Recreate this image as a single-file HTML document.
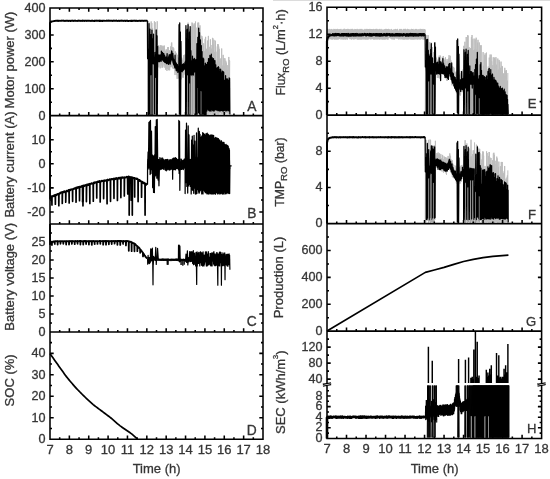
<!DOCTYPE html>
<html lang="en"><head><meta charset="utf-8"><title>Figure</title>
<style>html,body{margin:0;padding:0;background:#fff}svg{display:block}</style></head>
<body><svg width="550" height="479" viewBox="0 0 550 479">
<defs><filter id="soft" x="0" y="0" width="550" height="479" filterUnits="userSpaceOnUse"><feGaussianBlur stdDeviation="0.45"/></filter></defs>
<rect width="550" height="479" fill="#fff"/>
<rect x="273" y="0" width="277" height="1" fill="#dcdcdc"/>
<g filter="url(#soft)">
<g font-family="'Liberation Sans', sans-serif" font-size="13" fill="#363636" stroke="#363636" stroke-width="0.3">
<path d="M147.49,114.6 147.87,24.36 148.3,113.2 148.56,21.04 148.84,114.6 149.2,22.66 149.62,114.6 149.88,36.71 150.23,114.6 150.52,47.31 150.92,113.83 151.16,21.4 151.42,112.13 151.82,23.03 152.07,111.02 152.35,28.17 152.65,114.6 152.98,37.99 153.32,111.58 153.62,46.76 153.96,114.6 154.4,21.27 154.74,114.24 155.17,22.17 155.44,111.99 155.8,33.33 156.08,114.6 156.46,30.1 156.9,114.6 157.22,21.3 157.51,113.72 157.63,67.68 157.84,56.87 158.09,65.55 158.32,54.92 158.49,67.24 158.7,45.29 158.93,66.69 159.1,46.91 159.31,62.42 159.56,56.54 159.79,56.78 159.95,56.13 160.16,68.33 160.35,45.29 160.5,57.27 160.65,46.33 160.8,63.08 160.99,45.54 161.2,65.45 161.39,45.68 161.61,57.11 161.79,54.95 162.01,67.69 162.26,45.71 162.5,67.18 162.66,47.62 162.87,67.34 163.1,48.78 163.25,61.19 163.43,46.8 163.63,62.73 163.85,45.81 164.11,65.36 164.29,45.61 164.5,64.58 164.74,49.51 164.9,67.74 165.12,58.02 165.37,57.2 165.57,50.79 165.71,69.72 165.89,52.48 166.12,68.37 166.32,49.35 166.57,60.04 166.78,55.75 166.95,70.88 167.1,50.6 167.25,69.1 167.45,57.41 167.6,58.13 167.78,47.13 168.02,60.15 168.25,47.06 168.47,69.82 168.64,53.77 168.88,70.32 169.06,52.04 169.26,63.76 169.43,50.29 169.66,70.27 169.85,51.5 170.05,67.25 170.24,56.29 170.46,59.39 170.65,46.43 170.8,66.44 171.03,47.79 171.18,66.71 171.42,43.36 171.58,60.64 171.73,42.46 171.91,54.41 172.14,47.05 172.33,67.79 172.52,47.66 172.69,67.22 172.93,46.98 173.08,68.71 173.32,59.15 173.48,68.76 173.73,48.22 173.95,60.44 174.17,59.79 174.34,66.05 174.5,63.53 174.7,62.53 174.87,62.48 175.04,75.05 175.29,51.33 175.52,68.97 175.74,52.47 175.94,72.29 176.16,59.37 176.3,66.19 176.45,53.42 176.7,74.85 176.89,66.37 177.12,78.85 177.33,54.77 177.56,75.62 177.75,68.76 177.97,71.93 178.16,58.47 178.35,78.63 178.51,57.7 178.74,77.6 178.95,58.57 179.15,73.3 179.39,68.66 179.61,73.66 179.84,63.97 180.01,72.93 180.17,65.3 180.4,77.83 180.61,62.75 180.81,75.94 180.97,59.45 181.2,79.38 181.39,66.89 181.63,70.19 181.8,57.74 181.97,73.92 182.19,61.88 182.37,76.13 182.57,59.75 182.71,77.25 182.89,61.02 183.13,77.89 183.34,64.91 183.49,73.36 183.64,55.2 183.86,74.86 184.08,58.93 184.27,67.4 184.49,54.78 184.72,70.7 184.96,60.97 185.17,73.82 185.38,54.25 185.56,68.7 185.58,114.6 185.9,29.9 186.14,112.56 186.37,29.85 186.62,112.1 186.98,35.71 187.22,112.66 187.55,42.39 187.81,113.84 188.07,22.65 188.36,114.3 188.71,36.85 189.09,113.89 189.31,47.23 189.52,111.79 189.82,29.23 190.08,114.6 190.34,48.83 190.6,111.29 190.83,43.3 191.14,114.6 191.37,26.77 191.64,113.74 192.02,22.5 192.32,114.6 192.68,23.26 192.9,114.12 193.11,24.61 193.45,113.74 193.73,48.9 194.07,113.95 194.32,23.36 194.57,112.56 194.92,25.95 195.19,114.6 195.47,21.5 195.72,112.97 195.73,114.16 195.91,27.51 196.18,112.69 196.35,48.55 196.64,113.68 196.85,51.64 197.06,114.25 197.24,40.21 197.55,113.64 197.82,22.62 198.04,112.68 198.26,57.02 198.49,113.17 198.66,22.57 198.85,113.52 199.06,49.24 199.23,112.26 199.46,28.34 199.7,112.11 199.98,25.35 200.27,112.85 200.55,55.18 200.78,113.45 200.98,35.54 201.25,114.12 201.43,41.04 201.73,111.88 201.99,36.24 202.21,112.38 202.41,38.22 202.62,114.25 202.81,58.84 203.06,114 203.35,46.03 203.53,113.7 203.74,43.27 203.97,113.69 204.18,51.19 204.41,112.6 204.64,55.51 204.91,112.56 205.17,38.84 205.43,113.95 205.61,36.86 205.86,112.67 206.04,60.47 206.21,113.93 206.43,48.81 206.65,113.35 206.9,54.89 207.17,114.21 207.46,40.62 207.69,113.38 207.88,42.91 208.16,114.24 208.38,35.9 208.68,113.33 208.89,62.51 209.19,113.62 209.4,52.35 209.67,112.94 209.84,46.84 210.1,113.54 210.38,39.32 210.58,114 210.75,51.38 210.93,114.05 211.19,60.92 211.39,112.42 211.58,48.67 211.82,112.6 212.04,45.01 212.27,114.1 212.47,37.87 212.74,114.03 212.98,38.38 213.2,112.94 213.49,44.66 213.72,113.98 214.01,39.88 214.27,113.92 214.56,52.27 214.74,114.18 214.96,66.77 215.24,114 215.41,40.71 215.71,113.85 215.9,51.64 216.07,113.01 216.29,62.54 216.49,112.32 216.74,67.06 217.04,114.2 217.32,46.44 217.56,112.39 217.77,44.08 217.98,114.04 218.21,44.39 218.41,114.19 218.71,46.5 218.95,113.06 219.16,48.81 219.36,112.49 219.65,61.89 219.88,113.83 220.18,58.71 220.47,112.79 220.65,66.78 220.93,113.06 221.23,57.97 221.42,113.68 221.68,48.51 221.98,113.94 222.25,65.52 222.46,112.77 222.68,67.38 222.9,113.79 223.17,54.86 223.41,113.5 223.59,74.66 223.75,113.51 223.93,57.97 224.2,113.51 224.37,65.76 224.66,112.94 224.94,58.32 225.15,114.05 225.36,68.88 225.58,113.97 225.79,60.75 226.04,113.49 226.33,62.62 226.59,112.55 226.82,70.12 227.09,112.68 227.27,70.01 227.56,113.43 227.78,65.16 228.06,113.15 228.36,71.87 228.58,113.98 228.81,56.94 229.01,112.91 229.21,60.07 229.42,113.36 229.71,60.77" fill="none" stroke="#bdbdbd" stroke-width="1" stroke-linejoin="round"/>
<path d="M50,115.6 50,23.06 50.39,22.26 52.32,21.32 55.81,20.78 55.81,20.72 56.2,20.61 56.59,20.66 56.98,20.9 57.37,20.86 57.76,20.62 58.15,20.99 58.54,20.64 58.93,20.65 59.32,20.79 59.71,20.86 60.1,20.87 60.49,20.88 60.88,20.8 61.27,20.78 61.66,20.75 62.05,20.56 62.43,20.65 62.82,20.72 63.21,20.57 63.6,20.9 63.99,20.92 64.38,20.73 64.77,20.97 65.16,20.98 65.55,20.77 65.94,20.79 66.33,20.6 66.72,20.72 67.11,20.77 67.5,20.78 67.89,20.89 68.28,20.99 68.67,20.91 69.06,20.69 69.45,20.91 69.84,20.83 70.23,20.99 70.62,20.64 71.01,20.93 71.4,20.88 71.79,20.61 72.18,20.77 72.57,20.63 72.96,20.72 73.35,20.67 73.74,20.95 74.13,20.76 74.52,20.77 74.91,20.62 75.3,20.84 75.69,20.74 76.08,20.97 76.47,20.83 76.86,20.85 77.25,20.93 77.63,20.64 78.02,20.83 78.41,20.57 78.8,20.74 79.19,20.73 79.58,20.72 79.97,20.7 80.36,20.93 80.75,20.8 81.14,20.89 81.53,20.82 81.92,20.95 82.31,20.58 82.7,20.9 83.09,20.7 83.48,20.86 83.87,20.62 84.26,20.71 84.65,20.94 85.04,20.63 85.43,20.59 85.82,20.6 86.21,20.75 86.6,20.93 86.99,20.91 87.38,20.59 87.77,20.75 88.16,20.91 88.55,20.61 88.94,20.72 89.33,20.75 89.72,20.83 90.11,20.82 90.5,20.89 90.89,20.98 91.28,20.62 91.67,20.79 92.06,20.76 92.45,20.85 92.83,20.67 93.22,20.98 93.61,20.83 94,20.98 94.39,20.94 94.78,20.58 95.17,20.71 95.56,20.81 95.95,20.77 96.34,20.62 96.73,20.84 97.12,20.74 97.51,20.7 97.9,20.84 98.29,20.77 98.68,20.66 99.07,20.6 99.46,20.93 99.85,20.59 100.24,20.99 100.63,20.67 101.02,20.64 101.41,20.93 101.8,20.81 102.19,20.64 102.58,20.99 102.97,20.72 103.36,20.65 103.75,20.77 104.14,20.68 104.53,20.9 104.92,20.91 105.31,20.84 105.7,20.92 106.09,20.84 106.48,20.58 106.87,20.75 107.26,20.85 107.65,20.88 108.03,20.58 108.42,20.8 108.81,20.57 109.2,20.77 109.59,20.77 109.98,20.61 110.37,20.67 110.76,20.74 111.15,20.81 111.54,20.61 111.93,20.82 112.32,20.6 112.71,20.96 113.1,20.81 113.49,20.77 113.88,20.58 114.27,20.88 114.66,20.65 115.05,20.7 115.44,20.68 115.83,20.72 116.22,20.57 116.61,20.85 117,20.82 117.39,20.91 117.78,20.97 118.17,20.9 118.56,20.6 118.95,20.63 119.34,20.94 119.73,20.73 120.12,20.79 120.51,20.74 120.9,20.71 121.29,20.86 121.68,20.58 122.07,20.79 122.46,20.72 122.85,20.72 123.23,20.91 123.62,20.97 124.01,20.82 124.4,20.66 124.79,20.64 125.18,20.68 125.57,20.94 125.96,20.6 126.35,20.65 126.74,20.61 127.13,20.77 127.52,20.6 127.91,20.97 128.3,20.98 128.69,20.98 129.08,20.88 129.47,20.89 129.86,20.91 130.25,20.75 130.64,20.98 131.03,20.74 131.42,20.92 131.81,20.7 132.2,20.98 132.59,20.86 132.98,20.59 133.37,20.76 133.76,20.64 134.15,20.71 134.54,20.73 134.93,20.91 135.32,20.75 135.71,20.98 136.1,20.65 136.49,20.58 136.88,20.63 137.27,20.97 137.66,20.85 138.05,20.86 138.43,20.94 138.82,20.72 139.21,20.65 139.6,20.86 139.99,20.62 140.38,20.65 140.77,20.94 141.16,20.66 141.55,20.61 141.94,20.91 142.33,20.75 142.72,20.72 143.11,20.73 143.5,20.95 143.89,20.71 144.28,20.72 144.67,20.64 145.06,20.65 145.45,20.85 145.84,20.68 146.23,20.62 146.62,20.61 147.01,20.92 147.4,20.98" fill="none" stroke="#000" stroke-width="1.9" stroke-linejoin="round"/>
<path d="M147.36,20.78 147.4,20.78 147.59,58.71 147.69,53.02 147.95,58.65 148.21,54.14 148.46,49.22 148.56,114.6 148.99,23.69 149.39,114.1 149.91,29.1 150.36,114.6 150.69,63.41 151.03,34.66 151.24,63.18 151.47,114.6 151.95,30.16 152.41,114.6 152.63,61.13 152.95,38.66 153.29,57.62 153.56,34.2 153.79,114.6 154.18,52.33 154.49,113.67 154.91,56.93 155.44,57.85 155.73,52.08 155.82,113.79 156.19,29.88 156.63,113.98 157.01,35.83 157.29,114.54 157.65,46.35 157.76,56.44 157.95,55.86 158.15,59.3 158.34,60.91 158.54,56.89 158.73,55.39 158.93,60.84 159.12,57.2 159.32,56.47 159.51,55.86 159.71,60.97 159.9,61.05 160.1,55.14 160.29,60.64 160.49,60.13 160.68,57.44 160.88,58.14 161.07,56.05 161.27,59.54 161.46,54.75 161.66,59.12 161.85,55.44 162.05,59.84 162.24,57.1 162.44,59.82 162.63,57.88 162.83,57.77 163.02,55.01 163.22,56.95 163.41,59.77 163.61,53.97 163.8,54.91 164,54.99 164.19,59.57 164.39,58.87 164.58,60.21 164.78,61.12 164.97,61.97 165.17,59.19 165.36,61.83 165.56,61.55 165.75,57.2 165.95,59.69 166.14,61.69 166.34,58.61 166.53,61.29 166.73,59.66 166.92,61.3 167.12,59.86 167.31,59.19 167.51,59.85 167.7,60.82 167.9,58.33 168.09,57.86 168.29,62.4 168.48,62.74 168.68,62.95 168.87,57.1 169.07,57.08 169.26,61.41 169.46,56.38 169.65,61.04 169.85,58.86 170.04,58.66 170.24,55.7 170.43,61.09 170.63,59.06 170.82,56.58 171.02,59.15 171.21,57.18 171.41,54.84 171.6,51.28 171.8,52.88 171.99,53.27 172.19,54.55 172.38,55.73 172.58,55.65 172.77,57.52 172.97,57.74 173.16,61.1 173.36,62.53 173.55,59.3 173.75,63.67 173.94,59.37 174.14,62.02 174.33,64.29 174.53,60.69 174.72,66.06 174.92,64.07 175.11,67.12 175.31,61.81 175.5,64.65 175.7,63.5 175.89,67.2 176.09,64.17 176.28,65.13 176.48,65.84 176.67,64.18 176.87,67.85 177.06,68.29 177.26,66.83 177.45,66.23 177.65,69.79 177.84,67.73 178.04,70.76 178.23,68.59 178.43,67.23 178.62,71.82 178.82,67.59 179.04,24.65 179.38,113.99 179.72,22.79 180.06,114.6 180.4,32.08 180.62,114.6 180.96,41.36 181.3,68.2 181.52,71.33 181.73,65.1 181.93,68.11 182.13,68.35 182.34,66.2 182.54,67.33 182.74,65.84 182.94,69.87 183.15,66.63 183.35,66.52 183.55,63.96 183.76,69.58 183.96,66.76 184.16,65.47 184.36,65.84 184.57,68.77 184.77,65.28 184.97,67.53 185.18,67.55 185.38,63 185.58,67.25 185.58,114.6 185.93,25.58 186.29,70.09 186.64,64.56 186.99,114.6 187.34,29.29 187.7,114.6 188.05,24.65 188.4,69.36 188.75,58.06 189.1,114.6 189.46,32.08 189.81,114.6 190.16,26.51 190.51,68.63 190.87,50.64 191.22,74.95 191.87,63.95 192.44,76.03 193.08,61.36 193.68,74.86 194.22,63.57 194.81,76.16 195.34,63.79 195.73,114.6 196.11,59.77 196.53,114.11 196.95,43.7 197.31,114.6 197.84,37.27 198.21,112.42 198.71,28.01 199.21,113.62 199.52,32.59 199.92,114.6 200.41,39.89 200.88,114.6 201.3,45.66 201.76,114.6 201.81,114.6 202.03,51.62 202.34,114.32 202.59,59.24 202.9,113.34 203.16,58.04 203.37,114.02 203.7,58.89 203.96,114.6 204.32,65.8 204.66,114.6 204.91,65.65 205.14,114.51 205.36,63.24 205.62,114.6 205.85,66.43 206.06,114.6 206.31,64.3 206.32,110.39 206.6,72.18 206.88,111 207.14,70.12 207.33,109.02 207.51,62.38 207.79,108.58 208.04,66.03 208.28,109.81 208.49,58.73 208.75,110.3 209.03,58.81 209.21,110.81 209.41,65.62 209.61,109.47 209.9,55.27 210.17,110.88 210.44,55.85 210.64,110.63 210.9,62.65 211.08,111.01 211.32,54.19 211.52,109.67 211.73,57.67 212.01,109.17 212.26,57.86 212.53,110.36 212.69,77.71 212.88,110.63 213.11,60.23 213.31,110.97 213.51,58.56 213.68,110.76 213.94,60.18 214.19,110.97 214.37,62.92 214.64,109.86 214.92,60.72 215.16,109.38 215.33,68.81 215.56,108.69 215.77,64.84 215.95,110 216.25,68.4 216.46,109.49 216.7,68.2 216.89,110.23 217.08,71.94 217.26,109.59 217.48,67.7 217.72,110.08 217.89,74.05 218.07,110.86 218.35,66.61 218.56,110.31 218.85,67.66 219.08,109.62 219.31,69.32 219.6,110.94 219.88,74.01 220.04,110.89 220.27,71.55 220.46,110.71 220.63,69.23 220.85,110.08 221.06,70.86 221.32,110.49 221.59,76.7 221.88,109.74 222.08,72.67 222.33,110.91 222.59,71.21 222.89,110.93 223.18,71.64 223.38,111.02 223.68,72.06 223.92,110.2 224.18,80.13 224.37,110.52 224.64,80.44 224.84,109.29 225.13,80.26 225.35,109.8 225.58,75.64 225.8,111 226.07,78.4 226.35,110.82 226.55,79.68 226.76,110.12 226.95,79.49 227.22,110.13 227.39,78.91 227.58,110.19 227.83,80.44 228,110.87 228.2,83.5 228.4,109.35 228.7,79.83 228.95,110.7 229.15,77.84 229.39,110.88 229.6,78.33 229.89,114.6" fill="none" stroke="#000" stroke-width="1.25" stroke-linejoin="round"/>
<rect x="150.63" y="75.25" width="0.7" height="39.45" fill="#fff"/>
<rect x="152.71" y="64.49" width="1" height="50.21" fill="#fff"/>
<rect x="155.23" y="77.94" width="0.6" height="36.76" fill="#fff"/>
<rect x="187.08" y="75.25" width="0.8" height="39.45" fill="#fff"/>
<rect x="189.46" y="83.32" width="0.7" height="31.38" fill="#fff"/>
<rect x="192.12" y="75.25" width="0.8" height="39.45" fill="#fff"/>
<rect x="194.25" y="72.56" width="0.8" height="42.14" fill="#fff"/>
<rect x="197.25" y="88.7" width="0.6" height="26" fill="#fff"/>
<rect x="200.79" y="91.39" width="0.5" height="23.31" fill="#fff"/>
<path d="M157.86,57.44 157.97,59.53 158.09,56.26 158.21,55.24 158.32,58.75 158.44,55.08 158.56,61.7 158.67,61.37 158.79,56.35 158.91,60.2 159.03,57.86 159.14,58.6 159.26,61.54 159.38,56.44 159.49,56.55 159.61,61.55 159.73,60.54 159.85,55.93 159.96,54.92 160.08,55.2 160.2,58.21 160.31,59.27 160.43,58.54 160.55,60.72 160.67,57.96 160.78,60.11 160.9,60.62 161.02,58.71 161.13,61.29 161.25,57.81 161.37,51.11 161.49,56.14 161.6,53.35 161.72,54.02 161.84,56.06 161.95,53.77 162.07,57.5 162.19,54.45 162.31,58.7 162.42,52.28 162.54,52.71 162.66,55.83 162.77,56.53 162.89,54.1 163.01,58.01 163.13,53.75 163.24,60.73 163.36,59.04 163.48,59.7 163.59,59.18 163.71,53.56 163.83,61.45 163.95,59.3 164.06,57.14 164.18,56.21 164.3,55.77 164.41,59.2 164.53,60.73 164.65,55.57 164.76,61.86 164.88,62.49 165,61.24 165.12,59.21 165.23,58.89 165.35,57.48 165.47,58.9 165.58,59.29 165.7,57.89 165.82,58.48 165.94,60.96 166.05,63.04 166.17,62.17 166.29,57.32 166.4,58.6 166.52,57.28 166.64,63.63 166.76,56.48 166.87,60.87 166.99,56.34 167.11,53.61 167.22,59.6 167.34,57.36 167.46,59.02 167.58,58.64 167.69,63.02 167.81,59.3 167.93,61.42 168.04,63.82 168.16,63.37 168.28,60.5 168.4,62.36 168.51,58.18 168.63,63.61 168.75,64.44 168.86,56.03 168.98,61.62 169.1,54.92 169.22,62.17 169.33,62.03 169.45,60.25 169.57,56.84 169.68,62.99 169.8,56.13 169.92,54.69 170.04,58.16 170.15,59.67 170.27,64.02 170.39,60.85 170.5,59.51 170.62,54.92 170.74,61.78 170.86,57.86 170.97,55.16 171.09,60.08 171.21,59.13 171.32,53.02 171.44,53.01 171.56,55.51 171.67,51 171.79,56.96 171.91,55.65 172.03,58.77 172.14,54.82 172.26,60.01 172.38,59.74 172.49,55.31 172.61,58.05 172.73,57.2 172.85,53.4 172.96,58.35 173.08,62.12 173.2,58.25 173.31,63.48 173.43,62.53 173.55,61.37 173.67,64.51 173.78,64.92 173.9,60.68 174.02,60.26 174.13,63.72 174.25,63.9 174.37,65.7 174.49,63.26 174.6,62.96 174.72,60.19 174.84,67.88 174.95,60.79 175.07,55.24 175.19,65.9 175.31,62.91 175.42,62.28 175.54,63.93 175.66,67.17 175.77,64.56 175.89,62.62 176.01,69.28 176.13,66.34 176.24,70.38 176.36,63.67 176.48,64.43 176.59,70.77 176.71,65.09 176.83,65.74 176.95,70.68 177.06,67.53 177.18,66.35 177.3,69.51 177.41,68.3 177.53,64.53 177.65,67.58 177.77,68.79 177.88,72.48 178,72.05 178.12,65.95 178.23,66.89 178.35,66.14 178.47,68.32 178.58,68.37 178.7,68.78 178.82,67.09" fill="none" stroke="#000" stroke-width="1.25" stroke-linejoin="round"/>
<path d="M181.52,69.63 181.64,68.15 181.76,68.29 181.88,66.59 181.99,70.25 182.11,71.77 182.23,71.15 182.35,70.31 182.46,64.53 182.58,65.63 182.7,65.26 182.82,67.75 182.93,70.53 183.05,67.4 183.17,63.98 183.28,66.86 183.4,65.75 183.52,67.83 183.64,69.63 183.75,65.54 183.87,66.65 183.99,67.73 184.11,68.38 184.22,64.62 184.34,67.71 184.46,65.46 184.58,68.03 184.69,63.81 184.81,66.9 184.93,65.95 185.05,62.09 185.16,63.76 185.28,63.53 185.4,66.78 185.51,62.49 185.63,66.24 185.75,61.13 185.87,67.41 185.98,63.81 186.1,62.32 186.22,69.79 186.34,63.05 186.45,68.11 186.57,60.82 186.69,62.35 186.81,67.83 186.92,66.94 187.04,64.11 187.16,62.49 187.28,67.6 187.39,60.74 187.51,65.85 187.63,60.36 187.74,62.35 187.86,64.55 187.98,65.53 188.1,67.72 188.21,67.75 188.33,63.16 188.45,61.91 188.57,60.74 188.68,65.25 188.8,60.39 188.92,69.58 189.04,60.29 189.15,60.42 189.27,66.78 189.39,60.82 189.51,62.09 189.62,62.05 189.74,60.85 189.86,63.36 189.97,63.56 190.09,64.69 190.21,60.46 190.33,54.43 190.44,66.29 190.56,61.11 190.68,65.23 190.8,65.96 190.91,65.8 191.03,62.6 191.15,65.02 191.27,65.31 191.38,66.51 191.5,64.62 191.62,60.84 191.74,67.16 191.85,63.29 191.97,62.28 192.09,66.92 192.2,64.87 192.32,59.73 192.44,56.05 192.56,60.2 192.67,65.92 192.79,60.93 192.91,63.56 193.03,65.91 193.14,63.31 193.26,59.6 193.38,59.98 193.5,64.06 193.61,66.81 193.73,59.78 193.85,59.06 193.97,63.05 194.08,65.45 194.2,62.78 194.32,58.28 194.43,63.29 194.55,64.38 194.67,65.26 194.79,64.85 194.9,66.92 195.02,65.2 195.14,59.34 195.26,67.27 195.37,61.24 195.49,60.72 195.61,63.94 195.73,62.35" fill="none" stroke="#000" stroke-width="1.25" stroke-linejoin="round"/>
<path d="M327.39,38.79 327.48,29.29 327.58,36.85 327.66,31.64 327.76,37.15 327.84,31.57 327.95,35.82 328.06,31.95 328.17,38.8 328.28,30.87 328.37,38.41 328.46,29.91 328.55,37.27 328.68,32.27 328.81,38.13 328.93,29.32 329.05,38.09 329.16,30.67 329.26,38.56 329.38,31.53 329.51,38.11 329.6,32.27 329.69,39.02 329.83,29.24 329.91,38.46 330.03,30.21 330.15,37.89 330.24,30.81 330.34,36.39 330.43,30.97 330.54,38.57 330.66,32.66 330.79,36.2 330.86,32.29 330.97,37.78 331.09,29.23 331.17,39.3 331.25,30.22 331.33,38.51 331.46,30.93 331.57,38.88 331.66,29.52 331.76,38.63 331.86,29.53 331.95,38.79 332.04,29.84 332.18,36.55 332.27,31.51 332.4,38.97 332.49,30.16 332.6,39.26 332.69,29.69 332.77,38.5 332.86,32.59 332.98,38.48 333.08,31.76 333.21,36.47 333.33,29.69 333.42,36.22 333.55,31.84 333.67,36.93 333.76,29.23 333.9,39.07 334.02,29.23 334.13,37.58 334.26,29.54 334.37,39.3 334.46,29.46 334.55,35.97 334.65,31.55 334.77,39.3 334.9,29.47 335.01,36.98 335.1,30.96 335.23,39.24 335.31,30.18 335.41,39.04 335.52,32.18 335.61,36.48 335.71,30.76 335.81,36.62 335.9,29.22 335.97,38.72 336.08,30.33 336.21,38.58 336.3,29.51 336.4,39.3 336.53,30.05 336.62,38.73 336.75,29.8 336.88,39.13 336.98,32.44 337.07,35.89 337.18,29.3 337.28,36.36 337.39,29.3 337.49,38.11 337.61,29.44 337.71,36.56 337.79,29.88 337.91,39.13 338.04,30.71 338.15,39.05 338.28,29.53 338.36,37.55 338.46,31.69 338.59,36.98 338.73,30.74 338.81,38.91 338.94,31.06 339.06,36.42 339.16,29.47 339.24,36.25 339.36,30.96 339.49,38.53 339.62,32.24 339.74,36.61 339.88,30.45 339.98,35.93 340.1,29.22 340.2,36.35 340.3,30.5 340.38,37.96 340.49,29.47 340.62,37.9 340.74,32.45 340.88,39.3 340.99,32.12 341.08,36.73 341.17,29.3 341.29,37.02 341.42,32.38 341.55,36.92 341.65,32.28 341.75,37.24 341.87,30.94 341.98,38.42 342.07,31.95 342.19,39.27 342.33,29.7 342.44,38.43 342.56,31.76 342.7,37.28 342.8,29.93 342.9,36.93 342.98,32.7 343.09,38.56 343.22,30.81 343.31,38.95 343.39,31.88 343.49,39.1 343.6,29.35 343.71,39.18 343.82,29.51 343.96,38.59 344.07,29.21 344.2,38.37 344.34,32.29 344.44,36.54 344.53,29.31 344.64,38.95 344.73,29.36 344.86,38.63 344.95,29.3 345.08,36.02 345.2,30.48 345.29,39.29 345.41,29.7 345.48,39.15 345.58,30.04 345.68,38.65 345.77,29.72 345.87,38.8 345.99,29.85 346.09,36.58 346.19,30.33 346.32,36.63 346.46,29.44 346.58,38.92 346.66,32.4 346.79,38.28 346.93,32.5 347.05,37.23 347.13,29.26 347.27,37.64 347.35,30.25 347.45,39.21 347.57,29.25 347.67,37.89 347.78,32.05 347.88,36.93 348.01,29.44 348.1,35.94 348.21,29.86 348.35,37.82 348.47,31.79 348.57,35.87 348.68,29.38 348.81,37.78 348.91,32.63 349.02,36.37 349.14,29.46 349.26,35.96 349.35,30.99 349.48,37.6 349.57,29.97 349.65,38.72 349.75,29.87 349.84,37.75 349.93,32.22 350.04,35.98 350.13,30.55 350.25,38.27 350.36,29.73 350.46,38.75 350.58,30.13 350.7,37.45 350.79,29.32 350.92,38.42 351.05,32.6 351.18,38.04 351.31,30.61 351.45,39.16 351.54,29.74 351.64,37.99 351.76,29.26 351.89,36.04 351.99,31.1 352.07,38.26 352.15,29.5 352.25,38.69 352.34,31.19 352.42,38.3 352.56,29.25 352.64,38.37 352.77,29.29 352.87,38.22 352.99,32.35 353.1,37.24 353.19,30.15 353.29,38.98 353.42,30.17 353.55,39.08 353.69,30.9 353.78,38.07 353.9,31.33 354.03,38.89 354.15,29.82 354.25,36.24 354.39,29.92 354.52,39.05 354.66,31.19 354.78,37.38 354.92,29.22 355,38.33 355.08,30.76 355.19,38.17 355.32,30.43 355.41,38.74 355.51,29.46 355.62,36.44 355.73,29.86 355.82,38.12 355.91,31.28 356.01,38.16 356.12,30.18 356.22,36.65 356.31,29.91 356.44,37.8 356.54,31.85 356.63,37.19 356.73,30.87 356.82,37.88 356.96,29.27 357.07,39.27 357.18,30.64 357.26,38.54 357.38,29.27 357.47,39.07 357.56,30.22 357.68,37.9 357.81,30.78 357.88,39.28 358,30.6 358.08,39.2 358.2,29.71 358.31,38.84 358.4,31.15 358.48,39.21 358.61,30.33 358.72,37.56 358.83,30.51 358.97,38.14 359.1,29.25 359.23,39.26 359.31,30.75 359.39,37.39 359.47,29.65 359.58,38.59 359.68,30.19 359.77,39.07 359.87,32.65 359.95,37.6 360.04,32.14 360.13,37.43 360.25,30.45 360.34,38.98 360.46,29.28 360.56,39.22 360.67,29.71 360.79,38.81 360.93,31.03 361.01,39.19 361.15,29.29 361.26,36.93 361.37,31.39 361.45,37.76 361.58,29.48 361.68,39.09 361.78,30.49 361.91,39.08 362.02,29.41 362.13,38.53 362.22,29.6 362.33,38.63 362.47,29.86 362.59,37.12 362.67,31.43 362.77,38.9 362.86,29.97 362.95,36.92 363.04,31.89 363.15,35.89 363.25,30.64 363.34,38.64 363.42,30.67 363.5,37.68 363.6,30.34 363.74,38.2 363.85,30.94 363.94,39.3 364.07,29.66 364.18,36.28 364.27,29.42 364.38,38.22 364.49,31.12 364.57,36.25 364.71,32.64 364.8,38.24 364.9,30.26 364.98,38.93 365.11,29.77 365.2,37.66 365.29,30.78 365.41,38.33 365.49,30.01 365.59,39.3 365.7,30.15 365.81,38.85 365.89,29.21 365.97,38.21 366.08,29.43 366.21,38.73 366.33,32.48 366.42,37.91 366.52,29.23 366.64,39.26 366.75,30.11 366.86,37.22 366.99,32.73 367.11,39.1 367.19,29.34 367.3,37.61 367.4,29.66 367.54,38.66 367.65,31.99 367.76,39.25 367.85,29.72 367.93,38.71 368.06,31.36 368.19,38.63 368.3,29.52 368.39,38.89 368.48,29.64 368.56,38.98 368.68,30.67 368.76,36.45 368.86,30.22 368.94,36.57 369.04,30.13 369.16,38.11 369.27,29.21 369.37,37.7 369.46,31.24 369.58,38.27 369.67,29.97 369.81,36.04 369.89,29.53 369.98,36.57 370.12,29.2 370.23,39.18 370.36,31.41 370.47,36.41 370.54,29.62 370.65,38.54 370.75,30.35 370.88,36.05 370.99,32.57 371.09,38.49 371.23,29.54 371.32,36.56 371.43,32.14 371.53,37.93 371.64,29.59 371.74,39.07 371.88,29.7 371.96,38.5 372.08,29.63 372.21,38.39 372.29,30 372.41,37.24 372.5,31.15 372.59,36.6 372.67,29.48 372.76,38.21 372.87,31.3 372.97,37.35 373.1,30.46 373.18,38.78 373.28,29.53 373.42,39.21 373.53,30.1 373.66,36.7 373.74,29.35 373.86,37.43 373.95,32.7 374.03,36.44 374.16,29.58 374.27,38.3 374.38,30.17 374.48,39.24 374.61,32.66 374.74,36.84 374.82,29.83 374.9,36.2 375.04,29.65 375.17,38.65 375.25,30.12 375.38,38.31 375.48,29.41 375.59,37.46 375.72,31.95 375.82,39.15 375.91,31.65 375.99,36.82 376.11,30.04 376.19,38.76 376.31,29.22 376.43,37.81 376.54,29.36 376.62,37.87 376.71,30.25 376.81,36.15 376.94,30.37 377.03,39.29 377.12,29.35 377.23,36.35 377.36,31.23 377.5,37.82 377.6,29.74 377.68,38.99 377.78,29.92 377.88,37.73 377.99,31.01 378.09,38.42 378.17,31.23 378.31,38.77 378.39,29.85 378.48,38.74 378.61,31.82 378.69,36.01 378.76,30.52 378.86,37.62 378.97,30.6 379.08,39.24 379.17,29.22 379.3,38.64 379.42,32.46 379.51,39.24 379.62,32.63 379.73,37.55 379.83,31.33 379.94,39.11 380.03,29.28 380.17,37.9 380.25,31.03 380.33,39.07 380.42,29.89 380.55,38.68 380.67,32.14 380.76,38.37 380.88,31.92 381,38.68 381.1,30.29 381.21,38.42 381.35,29.2 381.43,38.47 381.56,31.21 381.66,37.24 381.76,31.94 381.89,39.24 382.02,32.57 382.15,36.53 382.26,32.14 382.37,38.41 382.47,30.11 382.59,37.04 382.72,32.29 382.84,39.29 382.92,29.88 383.05,37.03 383.14,32.22 383.27,38.12 383.38,30.39 383.52,38.68 383.64,29.97 383.77,36.35 383.85,32.63 383.94,39.21 384.05,31.47 384.18,39.16 384.31,29.59 384.4,38.26 384.53,31.93 384.66,38.79 384.75,30.77 384.88,38.71 384.96,31.21 385.05,39.29 385.15,29.53 385.22,38.57 385.31,30.22 385.43,38.39 385.52,31.16 385.62,37.07 385.74,29.29 385.83,37.97 385.95,29.24 386.05,39 386.15,29.96 386.27,38.39 386.36,31.59 386.46,35.83 386.59,30.21 386.7,38.32 386.79,29.3 386.93,38.63 387.01,31.86 387.09,38.44 387.21,32.5 387.3,38.81 387.41,30.55 387.52,39.24 387.6,29.65 387.7,37.47 387.84,29.84 387.94,39.21 388.01,32.65 388.1,38.97 388.17,29.36 388.26,38.88 388.35,29.5 388.48,37.8 388.57,32.38 388.7,37.12 388.79,29.26 388.9,37.02 389.03,29.46 389.11,36.11 389.21,32.3 389.34,37.69 389.43,30.15 389.55,36.08 389.64,32.17 389.72,37.47 389.84,29.86 389.93,37.46 390.05,29.92 390.14,35.9 390.23,29.71 390.37,36.32 390.5,31.18 390.59,38.32 390.73,31.79 390.84,35.94 390.93,32.64 391.06,37.57 391.19,31.84 391.32,38.27 391.44,29.27 391.52,38.55 391.65,29.45 391.78,38.94 391.91,32.59 392,38.13 392.13,32.34 392.23,37.52 392.34,31.25 392.43,37.13 392.55,30.43 392.68,36.22 392.77,32.43 392.85,38.8 392.93,31.26 393.02,39.3 393.12,30 393.21,38.96 393.3,30.02 393.42,38.6 393.51,32.22 393.61,38.94 393.74,31.24 393.87,37.09 393.95,29.84 394.07,38.56 394.19,29.9 394.27,37.36 394.41,29.91 394.49,39.13 394.57,32.73 394.7,38.38 394.81,31.51 394.88,36.87 394.99,32.56 395.13,37.77 395.23,29.44 395.34,36.49 395.48,29.88 395.57,36.05 395.69,29.42 395.82,36.92 395.91,30.77 396.05,38.34 396.13,29.62 396.25,38.14 396.35,31.57 396.46,37.55 396.6,32.72 396.68,35.89 396.82,31.36 396.93,36.85 397.05,30.41 397.17,37.89 397.29,29.23 397.37,38.29 397.5,29.33 397.6,37.87 397.73,29.79 397.85,37.84 397.93,30.37 398.05,37.77 398.17,31.5 398.29,38.41 398.37,31.86 398.5,36.36 398.64,32.22 398.76,39.13 398.86,31.06 398.98,36.77 399.06,32.16 399.18,37.55 399.26,32.7 399.34,38.11 399.48,29.26 399.6,38.78 399.72,29.53 399.82,35.96 399.91,30.39 400.03,37.6 400.16,31.1 400.24,37.68 400.33,30.54 400.43,36.25 400.54,29.27 400.66,37.91 400.78,32.33 400.86,39.16 400.94,29.73 401.06,38.45 401.19,31.01 401.31,38.74 401.44,29.23 401.57,38.62 401.68,30.17 401.78,37.65 401.88,31.67 401.98,36.39 402.09,29.75 402.18,38.63 402.26,31.16 402.35,39.04 402.44,30.83 402.57,38.16 402.7,30.99 402.83,37.02 402.94,31.44 403.01,39.28 403.12,31.84 403.2,38.59 403.27,31.01 403.35,39.27 403.44,29.25 403.58,36.26 403.67,29.89 403.76,39.21 403.84,29.94 403.96,39.2 404.07,29.28 404.14,38.84 404.24,31.87 404.36,37.01 404.48,29.61 404.57,38.79 404.7,31.17 404.84,39.08 404.93,29.23 405.02,36.51 405.15,31.28 405.25,37.51 405.33,29.36 405.4,39.06 405.52,32.63 405.59,36.56 405.69,29.22 405.77,37.94 405.9,30.82 405.99,35.88 406.12,31.7 406.25,38.99 406.37,32.65 406.47,38.67 406.55,29.8 406.68,35.98 406.78,30.84 406.91,39.21 407.01,32.26 407.13,39.26 407.26,30.91 407.39,37.58 407.51,29.3 407.63,37.54 407.72,29.31 407.81,37.71 407.9,31.04 407.99,36.72 408.11,30.53 408.23,39.25 408.34,31.4 408.43,37.37 408.52,29.46 408.62,38.76 408.75,30.42 408.89,36.02 409.02,31.24 409.14,36.41 409.24,29.63 409.37,38.26 409.47,32.6 409.59,37.53 409.7,32.15 409.83,38.03 409.97,31.74 410.08,39.24 410.15,30.22 410.25,35.78 410.33,30.48 410.46,36.9 410.54,29.88 410.63,38.34 410.74,31.42 410.86,37.37 410.96,30.22 411.05,38.92 411.16,30.61 411.26,38.79 411.4,29.26 411.51,39.13 411.61,30.61 411.74,39.12 411.82,29.26 411.93,36.93 412.05,30.2 412.14,39.09 412.22,32.12 412.3,39.24 412.4,32.42 412.51,38.47 412.64,29.53 412.72,37.83 412.85,31.75 412.99,39.17 413.07,29.88 413.2,38.24 413.28,29.31 413.4,39.01 413.52,30.54 413.63,38.35 413.76,31.96 413.87,39.12 414.01,32.21 414.14,36.82 414.27,31.05 414.35,39.25 414.47,30.1 414.6,35.93 414.7,32.4 414.79,36.07 414.92,29.54 415.03,38.68 415.13,29.22 415.25,37.77 415.35,30.76 415.45,37.77 415.59,32.1 415.72,38.63 415.82,31.38 415.94,39.22 416.02,31.41 416.1,38.65 416.2,29.3 416.29,39.1 416.37,31.49 416.48,38.17 416.57,29.48 416.71,37.78 416.82,31.83 416.91,37.46 417.01,29.45 417.12,36.82 417.2,29.73 417.29,37.09 417.38,29.82 417.52,39.12 417.65,30.28 417.74,38.7 417.84,32.52 417.92,38.37 418.01,30.12 418.12,38.51 418.24,29.68 418.33,38.37 418.46,30.61 418.55,36.44 418.64,31.99 418.78,39.09 418.86,32.25 418.98,39.18 419.1,29.2 419.21,38.74 419.3,30.29 419.41,38.49 419.53,32.25 419.62,38.4 419.71,30 419.81,37.81 419.91,31.43 419.99,38.87 420.09,32.25 420.18,38.36 420.27,32.3 420.4,36.18 420.48,29.21 420.58,38.29 420.72,29.21 420.8,39.14 420.88,32.62 420.98,37.41 421.08,32.71 421.2,35.77 421.31,31.97 421.45,38.52 421.55,29.61 421.67,36.5 421.79,31.76 421.9,38.09 422,29.26 422.13,36.63 422.24,30.1 422.34,36.78 422.47,31.98 422.57,35.91 422.69,31.39 422.81,39.25 422.89,29.47 423.01,36.98 423.15,29.22 423.27,36.45 423.35,32.31 423.48,37.97 423.6,31.09 423.68,39.3 423.76,30.04 423.88,38.38 423.96,32.3 424.1,37.7 424.22,29.48 424.35,39.28 424.45,29.52 424.57,38.3 424.67,32.14 424.77,36.33 424.86,30.54 424.95,39.07 425.07,29.7 425.16,37.66 425.28,29.8" fill="none" stroke="#bebebe" stroke-width="1.1" stroke-linejoin="round"/>
<path d="M425.22,114.1 425.6,48.51 425.84,113.44 426.22,37.38 426.52,112.66 426.81,35.15 427.09,112.21 427.45,57.24 427.76,114.05 428.12,35.11 428.51,111.5 428.82,53.08 429.26,111.38 429.64,42.19 429.88,113.58 430.29,47.51 430.66,113.17 430.99,42.45 431.42,111.88 431.81,49.59 432.13,113.61 432.51,47.12 432.8,112.91 433.24,55.83 433.56,114.1 433.94,51.97 434.23,113.12 434.49,46.31 434.93,112.71 435.21,42.02 435.44,74.47 435.6,56.29 435.77,71.21 435.99,64.96 436.15,73.72 436.35,57.68 436.56,70.56 436.73,62.82 436.94,73.08 437.12,62.46 437.32,77.99 437.55,65.84 437.78,66.6 437.98,59.61 438.22,68.31 438.36,65.97 438.55,77.3 438.73,61.39 438.98,78.07 439.2,55.54 439.44,78.33 439.63,64.69 439.79,78.16 440.03,67.05 440.23,71.27 440.43,55.62 440.6,76.78 440.81,60.12 441.01,68.25 441.18,67.2 441.34,71.8 441.56,63.04 441.74,73.12 441.92,62.17 442.16,73.85 442.34,56.71 442.55,72.87 442.71,65.7 442.88,66.74 443.13,66.43 443.31,71.76 443.45,55.98 443.71,70.86 443.86,58.59 444.1,71.93 444.35,64.14 444.49,69.92 444.65,60.29 444.82,77.68 444.98,68.26 445.23,76.68 445.44,57.29 445.67,78.34 445.86,61.2 446.04,77.84 446.25,65.64 446.43,78 446.67,68.99 446.86,80.63 447.07,59.12 447.27,80.86 447.46,61.33 447.6,77.54 447.85,66.37 448.03,71.26 448.17,68.39 448.39,79.18 448.59,58.64 448.82,72.9 449.05,55.13 449.19,71.38 449.34,58.17 449.5,75.69 449.75,59.33 449.96,76.98 450.16,55.76 450.4,72.24 450.55,65.45 450.74,74.12 450.88,60.32 451.07,79.84 451.31,68.87 451.54,83.19 451.77,67.71 451.98,85.34 452.19,66.31 452.39,81.84 452.58,71.85 452.81,81.4 452.97,74.35 453.14,78.09 453.29,66.89 453.5,79.98 453.73,71.43 453.88,82.01 454.03,67.72 454.25,84.94 454.47,77.52 454.7,86.4 454.88,71.52 455.04,81.08 455.29,72.37 455.51,83.82 455.75,82.77 455.96,87.62 456.12,79.67 456.31,92.53 456.53,71.51 456.77,85.41 457,77.44 457.22,93.72 457.38,78.23 457.63,92.68 457.78,72.67 457.99,95.73 458.14,74.2 458.28,95.47 458.47,81.17 458.72,95.48 458.87,77.21 459.03,93.47 459.2,74.76 459.43,85.82 459.62,83.76 459.84,94.51 460.09,74.65 460.25,95.65 460.41,76.52 460.59,94.76 460.73,73.31 460.94,84.17 461.2,70.97 461.35,82.91 461.61,81.75 461.75,90.29 461.92,75.97 462.17,92.24 462.32,72.45 462.5,91.67 462.7,71.14 462.86,91.66 463.03,69.49 463.26,89.98 463.52,69.15 463.6,114.1 463.84,45.82 464.11,112.01 464.4,46.54 464.7,111.66 464.92,41.78 465.27,112.12 465.55,51.19 465.9,111.51 466.23,37 466.6,111.43 466.87,55.27 467.19,114.1 467.56,35.22 467.81,114.1 468.1,35.51 468.35,114.1 468.58,48.3 468.86,114.1 469.07,47.17 469.33,114.1 469.59,53.59 469.85,114.1 470.11,49.17 470.44,112.84 470.76,48.01 471.09,114.1 471.41,37.17 471.78,113.39 472.02,35.02 472.33,112.82 472.65,39.28 472.99,114.1 473.29,50.05 473.61,112.19 473.82,114.1 474.09,38.56 474.3,113.79 474.48,49.57 474.65,114.1 474.86,67.51 475.06,114.1 475.33,39.5 475.5,114.1 475.77,57.64 475.99,112.98 476.16,37.69 476.44,113.75 476.7,49.57 476.91,114.1 477.1,58.28 477.3,114.1 477.55,42.64 477.8,112.96 477.99,39.82 478.23,113.71 478.4,51.67 478.65,114.09 478.84,59.85 479.06,114.1 479.24,42.45 479.48,114.1 479.74,63.77 479.93,114.1 480.16,55.72 480.41,114.04 480.62,45.51 480.89,114.1 481.16,45.23 481.37,114.05 481.57,72.9 481.88,114.1 482.11,70.08 482.41,114.1 482.62,73.63 482.86,114.03 483.08,52.1 483.26,114.1 483.45,65.83 483.66,114.1 483.88,76.06 484.15,114.1 484.33,72.54 484.49,114.1 484.75,54.96 484.98,114.1 485.15,53.33 485.39,114.1 485.65,56.85 485.83,114.1 486.03,55.39 486.23,114.1 486.51,52.61 486.7,114.1 486.9,74.82 487.16,113.43 487.36,71.68 487.58,113.73 487.89,69.41 488.12,114.1 488.31,66.55 488.61,114.1 488.87,71.25 489.1,114.1 489.28,57.59 489.5,113.43 489.78,58.21 489.97,114.1 490.14,54.56 490.43,114.1 490.72,57.36 490.96,114.1 491.2,54.58 491.47,114.1 491.71,61.27 491.93,114.1 492.21,77.37 492.51,113.54 492.76,65.21 493.02,113.85 493.23,57.25 493.43,113.86 493.6,75.88 493.87,114.1 494.13,76.11 494.39,113.6 494.67,57.55 494.83,114.1 495.03,59.52 495.24,114.1 495.48,78.3 495.65,114.1 495.94,57.17 496.11,113.98 496.38,64.68 496.61,114.1 496.88,70.16 497.08,113.42 497.38,73.59 497.61,114.1 497.83,58.52 498.05,114.1 498.29,79.22 498.49,114.1 498.68,69.61 498.87,114.1 499.09,59.91 499.34,114.1 499.55,61.74 499.81,114.1 500.06,76.23 500.27,114.1 500.57,67.82 500.78,114.1 501.06,61.59 501.27,114.1 501.48,76.3 501.65,114.1 501.95,65.92 502.21,114.1 502.45,66.55 502.73,114.08 502.98,75.89 503.17,114.1 503.36,73.52 503.66,114.1 503.84,73.7 504.07,114.1 504.31,76.46 504.6,113.82 504.79,67.82 505,113.7 505.23,70.56 505.52,114.1 505.8,73.15 506.09,114.1 506.39,70.17 506.69,114.1 506.96,87.53 507.2,114.1 507.36,80.67 507.58,114.1 507.84,73.01" fill="none" stroke="#bdbdbd" stroke-width="1" stroke-linejoin="round"/>
<path d="M327,115.1 327,40.99 327.78,37.62 329.34,35.6 332.85,34.79 332.85,34.05 333.05,35.23 333.24,34.59 333.44,35.17 333.63,34.28 333.83,35.27 334.03,34.92 334.22,35.24 334.42,34.21 334.61,34.6 334.81,34.58 335,35.09 335.2,35.31 335.39,34.21 335.59,34.36 335.79,34.41 335.98,33.99 336.18,34.69 336.37,35.31 336.57,34.61 336.76,35.13 336.96,34.77 337.15,34.85 337.35,34.69 337.54,34.11 337.74,34.29 337.94,34.93 338.13,34.28 338.33,34.21 338.52,34.35 338.72,34.71 338.91,34.14 339.11,34.8 339.3,35.43 339.5,35.16 339.7,34.53 339.89,34.98 340.09,34.91 340.28,34.95 340.48,35.29 340.67,35.45 340.87,35.52 341.06,34.51 341.26,35.07 341.45,34.86 341.65,34.09 341.85,34.58 342.04,34.29 342.24,34.36 342.43,34.06 342.63,35.49 342.82,34.98 343.02,34.06 343.21,34.85 343.41,34.06 343.61,35.3 343.8,35.5 344,34.15 344.19,34.93 344.39,34.78 344.58,34.08 344.78,35.24 344.97,34.03 345.17,34.96 345.36,35.2 345.56,35.22 345.76,34.76 345.95,34.84 346.15,34.16 346.34,35.52 346.54,35.53 346.73,35.35 346.93,34.62 347.12,34.33 347.32,34.82 347.52,34.61 347.71,34.56 347.91,35.57 348.1,35.2 348.3,33.98 348.49,35.06 348.69,34.07 348.88,34.8 349.08,35.24 349.28,35.59 349.47,35.25 349.67,35.08 349.86,34.89 350.06,34.87 350.25,34.71 350.45,34.83 350.64,35.54 350.84,35.17 351.03,34.04 351.23,35.55 351.43,34.41 351.62,34.83 351.82,34.45 352.01,35.06 352.21,35 352.4,34.76 352.6,34.13 352.79,35.07 352.99,35.46 353.19,35.54 353.38,34.17 353.58,35.09 353.77,35.4 353.97,34.63 354.16,34.23 354.36,34.63 354.55,35.35 354.75,34.94 354.94,35.17 355.14,35.57 355.34,34.04 355.53,34.85 355.73,35.38 355.92,34.17 356.12,34 356.31,34.28 356.51,35.19 356.7,35.29 356.9,34.75 357.1,34.65 357.29,34.18 357.49,34.03 357.68,34.13 357.88,35.04 358.07,34.65 358.27,35.4 358.46,34.76 358.66,35.48 358.85,35.42 359.05,35.4 359.25,35.11 359.44,35.1 359.64,34.46 359.83,35.47 360.03,35.42 360.22,34.54 360.42,34.51 360.61,34.45 360.81,34.43 361.01,34.53 361.2,34.7 361.4,34.4 361.59,35.47 361.79,35.26 361.98,34.4 362.18,35.29 362.37,34.74 362.57,35.18 362.76,34.9 362.96,34.25 363.16,34.53 363.35,34.88 363.55,35.16 363.74,34.3 363.94,34.54 364.13,34.89 364.33,34.19 364.52,34.48 364.72,34.01 364.92,34.52 365.11,34.14 365.31,34.71 365.5,34.45 365.7,34.24 365.89,35.45 366.09,34.83 366.28,34.62 366.48,35.5 366.67,34.32 366.87,34.44 367.07,34.08 367.26,35 367.46,34.84 367.65,34.12 367.85,34.93 368.04,34.25 368.24,34.92 368.43,35.05 368.63,35.15 368.83,35.25 369.02,34.9 369.22,35.34 369.41,34.26 369.61,34.02 369.8,35.44 370,35.51 370.19,35.59 370.39,34.09 370.59,35.48 370.78,34.5 370.98,35.11 371.17,35.28 371.37,35.2 371.56,34.48 371.76,35.57 371.95,34.2 372.15,34.68 372.34,35.22 372.54,35.26 372.74,34.54 372.93,34.58 373.13,35.08 373.32,35.06 373.52,34.85 373.71,34.13 373.91,34.73 374.1,34.24 374.3,34.56 374.5,34.69 374.69,34.81 374.89,34.5 375.08,34.8 375.28,34.42 375.47,35.3 375.67,35.08 375.86,34.19 376.06,34.96 376.25,34.23 376.45,34.08 376.65,34.66 376.84,35.43 377.04,34.37 377.23,34.52 377.43,35.13 377.62,34.2 377.82,34.82 378.01,35.51 378.21,35.49 378.41,35.23 378.6,34.61 378.8,34.28 378.99,35.44 379.19,35.56 379.38,34.59 379.58,34.94 379.77,34.88 379.97,34.27 380.16,34.11 380.36,34.03 380.56,34.34 380.75,35.59 380.95,35.35 381.14,34.65 381.34,34.05 381.53,35.47 381.73,34.76 381.92,34.96 382.12,34.94 382.32,35.16 382.51,35.16 382.71,35.21 382.9,35.43 383.1,34.7 383.29,34.88 383.49,34.44 383.68,34.56 383.88,34.06 384.07,35.05 384.27,34.17 384.47,34.98 384.66,34.53 384.86,34.3 385.05,34.96 385.25,34.88 385.44,34.58 385.64,35.42 385.83,34.74 386.03,35.44 386.23,35.23 386.42,34.59 386.62,34.03 386.81,33.98 387.01,35.18 387.2,35.36 387.4,34.76 387.59,34.88 387.79,34.98 387.98,34.35 388.18,34.45 388.38,34.69 388.57,34.59 388.77,34.66 388.96,34.5 389.16,34.1 389.35,34.07 389.55,34.01 389.74,34.21 389.94,35.43 390.14,34.87 390.33,34.33 390.53,35.12 390.72,34.62 390.92,35.51 391.11,35.27 391.31,34.95 391.5,35.48 391.7,34.91 391.9,35.23 392.09,34.2 392.29,35.08 392.48,34.98 392.68,34.3 392.87,34.69 393.07,35.52 393.26,35.25 393.46,34.61 393.65,35.28 393.85,35.2 394.05,34.59 394.24,34.8 394.44,35.16 394.63,34.69 394.83,34.57 395.02,35.53 395.22,35.15 395.41,35.1 395.61,34.18 395.81,35.51 396,35.04 396.2,35.28 396.39,34.47 396.59,34.29 396.78,35.5 396.98,34.2 397.17,34.47 397.37,35.25 397.56,34.12 397.76,35.12 397.96,34.32 398.15,35.48 398.35,34.86 398.54,34.78 398.74,34.15 398.93,34.24 399.13,34.71 399.32,35.51 399.52,34.9 399.72,34.99 399.91,33.99 400.11,34.5 400.3,34.94 400.5,35.01 400.69,34.36 400.89,35.44 401.08,34.28 401.28,34.51 401.47,34.89 401.67,34.45 401.87,34.95 402.06,35.37 402.26,34.92 402.45,35.51 402.65,35.46 402.84,34.89 403.04,34.26 403.23,35.27 403.43,34.79 403.63,34.01 403.82,34.26 404.02,34.14 404.21,34.51 404.41,34.64 404.6,34.66 404.8,34.63 404.99,34.85 405.19,35.01 405.38,35.21 405.58,35.49 405.78,35 405.97,34.35 406.17,34.7 406.36,35.33 406.56,34.28 406.75,35.53 406.95,34.09 407.14,34.54 407.34,34.7 407.54,34.93 407.73,34.26 407.93,35.59 408.12,35.57 408.32,34.76 408.51,35.12 408.71,34.95 408.9,34.73 409.1,35.53 409.29,34.01 409.49,34.5 409.69,35.44 409.88,34.4 410.08,34.74 410.27,34.49 410.47,34.4 410.66,33.99 410.86,35.41 411.05,33.99 411.25,34.83 411.45,35.27 411.64,34.99 411.84,35.01 412.03,34.15 412.23,34.75 412.42,35.49 412.62,34.44 412.81,34.79 413.01,34.28 413.2,35.52 413.4,34.2 413.6,34.15 413.79,35.58 413.99,34.83 414.18,35.4 414.38,34.74 414.57,35.45 414.77,34.16 414.96,35.3 415.16,34.52 415.36,34.54 415.55,35.08 415.75,35.25 415.94,34.12 416.14,35.53 416.33,35.19 416.53,35.07 416.72,34.65 416.92,35 417.12,35.42 417.31,34.68 417.51,34.43 417.7,34.46 417.9,34.81 418.09,35.1 418.29,35.58 418.48,34.74 418.68,34.58 418.87,34.88 419.07,34.05 419.27,35.27 419.46,34.28 419.66,34.44 419.85,34.14 420.05,34.1 420.24,35.21 420.44,34.11 420.63,34.95 420.83,34.5 421.03,34.06 421.22,34.63 421.42,34.65 421.61,35.48 421.81,34.63 422,35.21 422.2,34.97 422.39,34.99 422.59,34.02 422.78,34.57 422.98,34.43 423.18,35.32 423.37,35.11 423.57,34.18 423.76,35.4 423.96,34.06 424.15,34.91 424.35,34.97 424.54,34.77 424.74,34.88 424.94,34.84 425.13,34.91" fill="none" stroke="#000" stroke-width="2.2" stroke-linejoin="round"/>
<path d="M425.09,34.79 425.13,34.79 425.33,66.91 425.42,63.57 425.68,60.65 425.94,65.83 426.2,71.82 426.3,114.1 426.65,39.55 427.16,114.1 427.6,39.43 427.93,114.1 428.29,50.31 428.45,67.67 428.79,54.09 429.04,69.36 429.23,114 429.63,56.13 430.08,114.1 430.4,70.59 430.71,49.28 431.03,64.28 431.31,43.73 431.57,113 431.96,57.49 432.24,114.1 432.52,58.12 432.96,114.1 433.23,68.21 433.52,63.52 433.62,114.1 434.06,67.87 434.36,114.1 434.69,42.85 434.99,113.85 435.43,47.08 435.57,69.75 435.76,70.14 435.96,64.11 436.16,68.16 436.35,68.23 436.55,67.49 436.75,73.25 436.94,69.63 437.14,65.69 437.34,67.08 437.53,64.65 437.73,70.44 437.93,68.7 438.12,71.06 438.32,71.49 438.52,72.38 438.71,71.27 438.91,71.65 439.1,68.9 439.3,69.22 439.5,65.68 439.69,65.57 439.89,68 440.09,66.86 440.28,68.8 440.48,70.43 440.68,68.51 440.87,67.25 441.07,64.01 441.27,65.44 441.46,73.05 441.66,67.29 441.86,72.87 442.05,67.53 442.25,65.27 442.44,66.82 442.64,72.71 442.84,69.67 443.03,72.01 443.23,67.4 443.43,67.11 443.62,67.06 443.82,71.12 444.02,68.89 444.21,73.04 444.41,65.96 444.61,66.09 444.8,75.48 445,70.3 445.2,68.96 445.39,74.09 445.59,76.31 445.78,76.83 445.98,69.93 446.18,77.16 446.37,73.59 446.57,69.63 446.77,76.98 446.96,70.17 447.16,72.76 447.36,72.99 447.55,71.84 447.75,72.98 447.95,67.63 448.14,69.38 448.34,72.04 448.54,74.54 448.73,70.1 448.93,64.29 449.12,64.58 449.32,72.1 449.52,68.39 449.71,68.1 449.91,69.62 450.11,73.46 450.3,73.59 450.5,70.94 450.7,69.89 450.89,70.6 451.09,71.71 451.29,72.36 451.48,79.75 451.68,78.3 451.88,77.77 452.07,79.25 452.27,78.55 452.46,78.81 452.66,79.79 452.86,83.5 453.05,75.24 453.25,74.69 453.45,78.52 453.64,82.36 453.84,80.95 454.04,76.66 454.23,80.2 454.43,79.59 454.63,79.94 454.82,77.48 455.02,81.15 455.22,87.06 455.41,83.42 455.61,79.59 455.8,87.98 456,89.15 456.2,89.54 456.39,89.72 456.59,89.15 456.79,83.39 457.01,40.49 457.35,112.57 457.7,38.97 458.04,114.1 458.38,46.58 458.6,114.1 458.94,54.19 459.29,86.13 459.51,85.12 459.72,83.65 459.92,85.28 460.13,87.19 460.33,82.67 460.53,88.77 460.74,86.71 460.94,86 461.15,83.19 461.35,82.23 461.56,84.05 461.76,83.5 461.96,86.66 462.17,83.37 462.37,80.7 462.58,84.62 462.78,81.28 462.99,83.56 463.19,83.33 463.4,82.19 463.6,86.74 463.6,114.1 463.96,49.75 464.31,85.73 464.66,78.04 465.02,114.1 465.37,52.44 465.73,114.1 466.08,49.07 466.44,84.02 466.79,73.33 467.15,114.1 467.5,54.46 467.86,114.1 468.21,50.42 468.57,82.32 468.92,67.94 469.28,114.1 469.88,75.41 470.36,79.51 471,73.34 471.49,83.12 472.24,72.98 472.91,79.35 473.62,76.02 473.82,113.72 474.15,75.89 474.5,113.92 474.81,69.68 475.15,114.1 475.57,64.54 476.09,114.1 476.44,59.06 476.92,113.04 477.34,52.31 477.78,113.69 478.26,79.05 478.73,114.1 479.23,75.68 479.7,113.09 479.95,114.1 480.29,64.59 480.6,113.74 480.9,62.52 481.19,114.1 481.44,70.31 481.67,114.1 482.01,76.68 482.25,114.1 482.59,75.38 482.92,114.1 483.22,75.5 483.58,113.55 483.94,82.16 484.15,114.1 484.41,76.52 484.49,114.03 484.7,83.62 484.97,114.1 485.21,77.29 485.49,113.3 485.68,82 485.92,114.1 486.12,79.99 486.33,114.1 486.57,75.91 486.78,114.1 486.98,80.29 487.23,114.1 487.46,79.72 487.75,114.1 487.96,71.5 488.13,114.1 488.39,73.09 488.61,113.88 488.86,68.92 489.03,114 489.21,68.36 489.46,113.68 489.64,76.58 489.94,114.1 490.24,73.41 490.5,113.22 490.76,69.54 490.94,112.76 491.16,74.84 491.33,113.6 491.52,75.83 491.76,114.1 492,75.05 492.26,114.1 492.51,74 492.79,113.99 493.05,79.8 493.25,114.1 493.5,80.38 493.73,114.1 493.98,77.48 494.27,114.1 494.53,83.71 494.76,114.1 494.95,79.78 495.16,114.1 495.41,85.61 495.6,114.1 495.86,80.6 496.06,114.05 496.27,81.67 496.48,114.1 496.75,85.23 496.96,114.1 497.25,83.1 497.53,114.1 497.74,83.12 498.03,114.1 498.31,85.98 498.53,113.56 498.75,87.1 499.05,114.1 499.34,88.31 499.59,113.97 499.85,90.46 500.02,114.1 500.3,86.37 500.57,114.1 500.85,88.46 501.15,114.1 501.44,91.17 501.63,114.1 501.88,88.66 502.12,114.1 502.41,88.12 502.61,114.1 502.84,91.52 503.04,114.1 503.21,90.55 503.51,114.1 503.81,92.96 504.02,113.78 504.24,89.18 504.51,114.1 504.74,93.34 504.95,114 505.15,91.99 505.4,114.1 505.67,95.25 505.9,114.09 506.14,94.61 506.31,114.1 506.57,95.79 506.85,114.1 507.07,95.27 507.27,114.1 507.51,99.38 507.71,114.1 507.95,104.4 508.24,114.1" fill="none" stroke="#000" stroke-width="1.25" stroke-linejoin="round"/>
<rect x="428.39" y="81.41" width="0.7" height="32.79" fill="#fff"/>
<rect x="430.48" y="74.67" width="1" height="39.52" fill="#fff"/>
<rect x="433.02" y="84.78" width="0.6" height="29.42" fill="#fff"/>
<rect x="465.11" y="88.15" width="0.8" height="26.05" fill="#fff"/>
<rect x="467.51" y="91.52" width="0.7" height="22.68" fill="#fff"/>
<rect x="470.19" y="84.78" width="0.8" height="29.42" fill="#fff"/>
<rect x="472.33" y="84.78" width="0.8" height="29.42" fill="#fff"/>
<rect x="475.36" y="94.89" width="0.6" height="19.31" fill="#fff"/>
<rect x="478.92" y="98.26" width="0.5" height="15.94" fill="#fff"/>
<path d="M435.67,63.51 435.78,70.64 435.9,70.1 436.02,69.88 436.14,71.54 436.26,62.85 436.37,68.2 436.49,65.86 436.61,67.23 436.73,74 436.85,74.23 436.96,73.24 437.08,68.65 437.2,66.93 437.32,62.1 437.44,63.35 437.55,65.45 437.67,70.08 437.79,70.54 437.91,73.1 438.03,70.44 438.14,64.89 438.26,65.33 438.38,73.29 438.5,64.26 438.62,73.55 438.73,70.62 438.85,62 438.97,66.28 439.09,63.6 439.21,57.75 439.32,71.41 439.44,64.46 439.56,70.04 439.68,74.1 439.8,73.56 439.91,73.33 440.03,66.71 440.15,61.64 440.27,63.91 440.39,71.19 440.5,65.07 440.62,80.56 440.74,71 440.86,66.53 440.98,70 441.09,62.07 441.21,71.04 441.33,72.1 441.45,63.69 441.57,63.79 441.68,73.14 441.8,70.86 441.92,68.61 442.04,68.48 442.16,70.48 442.27,65.25 442.39,65.3 442.51,73.46 442.63,71.44 442.75,71.92 442.86,58.62 442.98,73.76 443.1,62.55 443.22,74.06 443.34,68.76 443.45,66.6 443.57,63.51 443.69,68.02 443.81,64.98 443.93,69.37 444.04,73.58 444.16,71.08 444.28,68.76 444.4,69.89 444.52,66.71 444.63,70.03 444.75,72.21 444.87,70.61 444.99,70.68 445.11,77.5 445.22,73.45 445.34,70.36 445.46,68.66 445.58,72.53 445.69,68.47 445.81,71.79 445.93,73.68 446.05,75.47 446.17,68.31 446.28,66.8 446.4,76.95 446.52,76.28 446.64,69.88 446.76,76.96 446.87,66.77 446.99,71.33 447.11,68.53 447.23,72.44 447.35,67.21 447.46,70.38 447.58,78.12 447.7,69.01 447.82,70.98 447.94,74.72 448.05,76.15 448.17,66.86 448.29,70.15 448.41,79.49 448.53,77.06 448.64,75.12 448.76,67.64 448.88,68.93 449,65.86 449.12,69.69 449.23,71.28 449.35,63.69 449.47,70.83 449.59,73.01 449.71,69.49 449.82,68.93 449.94,72.63 450.06,63.35 450.18,73.39 450.3,75.35 450.41,68.79 450.53,76.13 450.65,74.85 450.77,73.5 450.89,75.74 451,71.15 451.12,78.3 451.24,72.07 451.36,79.41 451.48,73.72 451.59,68.88 451.71,62.94 451.83,70.1 451.95,75.76 452.07,81.25 452.18,78.87 452.3,73.85 452.42,82.55 452.54,75.78 452.66,80.5 452.77,72.91 452.89,80.58 453.01,81.18 453.13,82.07 453.25,78.78 453.36,73.58 453.48,79.23 453.6,76.81 453.72,79.94 453.84,85.92 453.95,79.53 454.07,79.66 454.19,79.86 454.31,84 454.43,84.64 454.54,84.05 454.66,88.2 454.78,86.71 454.9,85.29 455.02,82.55 455.13,77.54 455.25,80.53 455.37,83.19 455.49,80.78 455.61,84.58 455.72,90.03 455.84,81.86 455.96,81.84 456.08,82.72 456.2,80.36 456.31,81.52 456.43,81.12 456.55,91.64 456.67,87.99 456.79,84.97" fill="none" stroke="#000" stroke-width="1.25" stroke-linejoin="round"/>
<path d="M459.51,84.91 459.63,84.56 459.75,88.99 459.87,88.47 459.99,80.85 460.1,84.41 460.22,79.59 460.34,89.39 460.46,84.36 460.58,84.09 460.69,91.4 460.81,83.58 460.93,86.68 461.05,86 461.17,89.13 461.29,83.67 461.4,82.56 461.52,79.6 461.64,71.5 461.76,78.28 461.88,78.26 462,81.79 462.11,87.23 462.23,83.74 462.35,89.66 462.47,83.23 462.59,86.55 462.7,83.41 462.82,80.5 462.94,89.46 463.06,78.64 463.18,89.54 463.3,83.5 463.41,86.96 463.53,89.21 463.65,83.32 463.77,86.07 463.89,88.36 464.01,78.47 464.12,85.97 464.24,76.77 464.36,80.99 464.48,84.22 464.6,87.98 464.72,77.43 464.83,87.14 464.95,78.26 465.07,81.41 465.19,82.27 465.31,87.09 465.42,82.52 465.54,87.72 465.66,77.81 465.78,78.44 465.9,85.83 466.02,80.82 466.13,85.07 466.25,77.95 466.37,84.72 466.49,84.83 466.61,83.25 466.73,74.12 466.84,76.03 466.96,81.38 467.08,76.13 467.2,81.71 467.32,83.89 467.43,74.47 467.55,85.67 467.67,75.62 467.79,73.33 467.91,84.73 468.03,74.44 468.14,75.37 468.26,84.96 468.38,79.58 468.5,81.89 468.62,80.15 468.74,80.08 468.85,79.81 468.97,84.76 469.09,86.64 469.21,80.86 469.33,76.07 469.45,75.44 469.56,74.71 469.68,76.18 469.8,65.91 469.92,77.21 470.04,80.38 470.15,83.95 470.27,74.92 470.39,71.45 470.51,82.28 470.63,77.69 470.75,71.99 470.86,76.42 470.98,80.3 471.1,73.74 471.22,79.14 471.34,84.11 471.46,83.24 471.57,71.64 471.69,83.02 471.81,73.95 471.93,74.95 472.05,78.63 472.16,80.48 472.28,88.02 472.4,82.96 472.52,78.85 472.64,74.14 472.76,77.2 472.87,82.34 472.99,73.48 473.11,72.6 473.23,78.03 473.35,84.19 473.47,83.76 473.58,83.05 473.7,79.03 473.82,82.45" fill="none" stroke="#000" stroke-width="1.25" stroke-linejoin="round"/>
<path d="M425.22,219.97 425.55,140.09 425.79,222.28 426.21,139.88 426.62,218.38 426.97,148.48 427.26,220.29 427.68,161.87 428.03,220.93 428.46,139.88 428.78,219.36 429.21,157.78 429.62,220.59 430.05,139.53 430.31,220.26 430.58,140.18 430.93,221.87 431.22,145.28 431.48,221.76 431.87,160.31 432.26,222.4 432.7,149.48 433.08,221.18 433.34,148.31 433.61,220.68 434,153.97 434.33,222.47 434.7,145.1 435.12,219.42 435.4,140.82 435.44,160.76 435.69,154.27 435.93,167.99 436.14,155.53 436.29,161.64 436.53,158.46 436.76,161.81 436.91,153.01 437.09,164.22 437.25,156.62 437.47,163.22 437.66,153.77 437.86,160.9 438.1,152.49 438.29,166.48 438.46,154.78 438.65,165.23 438.79,155.58 438.97,161.89 439.13,161.76 439.36,167.96 439.6,153.38 439.8,166.25 440.03,155.67 440.2,169.43 440.44,160.91 440.65,165.16 440.85,154.12 441.01,170.63 441.25,163.45 441.45,171.25 441.6,158.39 441.8,164.69 442.02,158.38 442.26,163.19 442.46,154.91 442.65,163.87 442.89,155.66 443.07,171.82 443.3,163.2 443.48,172.59 443.67,159.15 443.87,166.64 444.05,161.75 444.22,167.97 444.41,156.61 444.64,170.93 444.81,165.53 444.96,170.98 445.13,161.8 445.31,166.36 445.52,157.49 445.71,167.05 445.87,157.14 446.11,173.52 446.29,158.17 446.5,174.73 446.67,163.04 446.8,169.69 447.02,163.61 447.19,171.31 447.33,158.64 447.55,170.37 447.75,157.81 447.96,166.58 448.13,155.94 448.33,168.71 448.51,163.12 448.75,163.23 448.95,162.47 449.1,162.65 449.3,159.83 449.56,168.88 449.8,153.41 449.98,170.23 450.19,155.66 450.37,170.73 450.56,156.25 450.76,167.26 450.92,159.33 451.17,171.43 451.32,160.43 451.56,168.8 451.8,160.76 452.03,172.86 452.21,160.16 452.36,177.08 452.53,167.01 452.75,169.8 452.91,163.81 453.16,177.68 453.39,167.7 453.62,175.03 453.81,164.96 453.98,176.56 454.23,169 454.42,172.2 454.61,170.31 454.77,176.7 455.01,169.37 455.16,177.36 455.36,168.68 455.6,179.42 455.76,165.65 456,174.5 456.15,170.55 456.37,183.44 456.59,168.36 456.83,175.78 457.06,168.5 457.22,178.54 457.46,170.35 457.69,181.73 457.94,168.74 458.13,181.95 458.33,171.52 458.53,183.14 458.67,169.21 458.88,182.33 459.05,172.02 459.21,181.3 459.43,167.24 459.63,174.72 459.83,171.58 459.98,183.64 460.18,174.94 460.34,175 460.54,168.12 460.76,180.74 460.91,166.17 461.15,181.27 461.32,165.13 461.46,181.56 461.7,172.67 461.86,177.04 462.1,168.37 462.31,176.45 462.53,170.94 462.67,178.85 462.9,165.54 463.08,175.92 463.31,164.68 463.54,173.04 463.6,222.46 463.97,146.08 464.24,220.89 464.54,163.38 464.88,222.15 465.12,140.22 465.47,221.93 465.74,144.44 465.99,222.2 466.2,155.45 466.54,218.74 466.89,143.39 467.23,220.72 467.59,161.65 467.87,221.66 468.12,154.89 468.5,221.61 468.72,148.28 468.96,221.11 469.31,148.5 469.6,222.3 469.84,149.82 470.18,222.4 470.55,156.69 470.82,220.16 471.03,139.74 471.32,220.63 471.55,156.33 471.86,221.54 472.18,161.32 472.41,222.51 472.76,154.01 472.98,222.08 473.2,150.41 473.56,222.39 473.78,158.88 473.82,222.5 474.09,150.15 474.31,221.73 474.54,142.55 474.78,222.44 474.98,168.26 475.19,222.51 475.44,163.5 475.71,221.72 476,154 476.27,221.74 476.44,144.68 476.64,221.05 476.86,165.37 477.15,222.25 477.36,145.66 477.59,221.62 477.78,173.51 478.01,221.04 478.25,159.19 478.54,221.3 478.78,148.65 479.03,221.01 479.21,174.33 479.47,222.12 479.7,148.85 480,221.07 480.26,153.3 480.46,220.32 480.68,159.78 480.87,221.13 481.06,164.9 481.25,220.46 481.54,163.24 481.77,222.26 481.95,159.47 482.14,221.58 482.32,154.35 482.6,221.72 482.79,151.36 483,222.46 483.25,151.71 483.43,220.7 483.61,155.69 483.82,221.45 484.03,179.05 484.31,221.69 484.54,178.5 484.74,222.44 485.03,165.91 485.27,222.03 485.56,173.99 485.82,221.34 486.1,167.56 486.3,222.33 486.59,151.33 486.84,220.63 487.13,153.04 487.37,221.4 487.58,174.87 487.86,222 488.06,165.53 488.31,222.44 488.58,155.93 488.87,221.55 489.08,151.99 489.3,221.55 489.49,151.99 489.8,222.43 490,157.54 490.25,221.93 490.5,173.13 490.74,222.43 490.99,158 491.26,220.99 491.46,174.63 491.71,222.48 492,168.62 492.25,222.15 492.48,160.33 492.65,222.07 492.91,178.62 493.1,221.73 493.36,153.38 493.6,221.94 493.9,152.72 494.19,222.3 494.44,154.82 494.64,222.46 494.87,164.09 495.04,221.91 495.33,168.45 495.57,221.56 495.87,160.72 496.09,222.07 496.39,180.29 496.57,221.92 496.77,156.63 496.96,221.76 497.17,158.34 497.37,222.51 497.56,178.75 497.84,222.31 498.03,172.69 498.22,220.79 498.5,166.94 498.69,222.44 498.87,161.59 499.06,221.4 499.32,179.08 499.6,222.32 499.86,174.34 500.16,221.06 500.44,166.28 500.68,221.31 500.92,175.23 501.1,222.44 501.27,161.92 501.49,222.27 501.78,167.23 502.03,220.73 502.29,161.96 502.54,221.47 502.76,173.21 502.97,222.51 503.24,181.57 503.45,221.27 503.66,173.22 503.96,222.5 504.13,171.34 504.39,220.84 504.67,165.97 504.89,222.14 505.15,182.27 505.34,221.57 505.61,185.04 505.82,222.13 506.03,178.65 506.27,221.15 506.51,183.04 506.75,221.98 506.97,177.53 507.18,221.87 507.36,175.42 507.66,222.45 507.86,170.35" fill="none" stroke="#bdbdbd" stroke-width="1" stroke-linejoin="round"/>
<path d="M327,223.6 327,142.68 327.78,139.51 329.34,137.98 332.85,137.25 332.85,137.22 333.25,137.17 333.64,137.39 334.03,137.18 334.42,137.12 334.82,137.07 335.21,137.18 335.6,137.21 335.99,137.08 336.39,137.39 336.78,137.15 337.17,137.17 337.56,137.17 337.96,137.3 338.35,137.4 338.74,137.38 339.14,137.19 339.53,137.32 339.92,137.09 340.31,137.39 340.71,137.14 341.1,137.26 341.49,137.33 341.88,137.34 342.28,137.31 342.67,137.3 343.06,137.35 343.45,137.35 343.85,137.08 344.24,137.28 344.63,137.21 345.03,137.18 345.42,137.31 345.81,137.09 346.2,137.33 346.6,137.36 346.99,137.42 347.38,137.34 347.77,137.41 348.17,137.21 348.56,137.22 348.95,137.42 349.34,137.09 349.74,137.17 350.13,137.23 350.52,137.09 350.92,137.24 351.31,137.37 351.7,137.15 352.09,137.09 352.49,137.41 352.88,137.25 353.27,137.35 353.66,137.11 354.06,137.4 354.45,137.14 354.84,137.36 355.24,137.2 355.63,137.18 356.02,137.16 356.41,137.41 356.81,137.26 357.2,137.39 357.59,137.39 357.98,137.37 358.38,137.38 358.77,137.09 359.16,137.23 359.55,137.34 359.95,137.26 360.34,137.41 360.73,137.35 361.13,137.21 361.52,137.18 361.91,137.21 362.3,137.08 362.7,137.08 363.09,137.13 363.48,137.26 363.87,137.16 364.27,137.34 364.66,137.12 365.05,137.34 365.44,137.07 365.84,137.43 366.23,137.14 366.62,137.25 367.02,137.14 367.41,137.24 367.8,137.13 368.19,137.18 368.59,137.2 368.98,137.09 369.37,137.39 369.76,137.1 370.16,137.24 370.55,137.18 370.94,137.19 371.33,137.29 371.73,137.24 372.12,137.08 372.51,137.26 372.91,137.1 373.3,137.43 373.69,137.23 374.08,137.18 374.48,137.29 374.87,137.4 375.26,137.15 375.65,137.16 376.05,137.3 376.44,137.4 376.83,137.13 377.22,137.15 377.62,137.13 378.01,137.14 378.4,137.34 378.8,137.21 379.19,137.26 379.58,137.29 379.97,137.28 380.37,137.19 380.76,137.07 381.15,137.26 381.54,137.3 381.94,137.21 382.33,137.21 382.72,137.29 383.11,137.2 383.51,137.2 383.9,137.16 384.29,137.37 384.69,137.2 385.08,137.28 385.47,137.11 385.86,137.21 386.26,137.14 386.65,137.14 387.04,137.36 387.43,137.4 387.83,137.16 388.22,137.41 388.61,137.09 389,137.18 389.4,137.28 389.79,137.19 390.18,137.39 390.58,137.2 390.97,137.1 391.36,137.43 391.75,137.09 392.15,137.32 392.54,137.29 392.93,137.09 393.32,137.14 393.72,137.29 394.11,137.08 394.5,137.42 394.89,137.19 395.29,137.25 395.68,137.11 396.07,137.43 396.47,137.32 396.86,137.26 397.25,137.41 397.64,137.2 398.04,137.13 398.43,137.11 398.82,137.38 399.21,137.25 399.61,137.08 400,137.41 400.39,137.18 400.79,137.33 401.18,137.1 401.57,137.21 401.96,137.11 402.36,137.41 402.75,137.21 403.14,137.28 403.53,137.39 403.93,137.28 404.32,137.16 404.71,137.22 405.1,137.22 405.5,137.33 405.89,137.25 406.28,137.27 406.68,137.1 407.07,137.12 407.46,137.27 407.85,137.25 408.25,137.33 408.64,137.23 409.03,137.39 409.42,137.08 409.82,137.28 410.21,137.43 410.6,137.33 410.99,137.09 411.39,137.32 411.78,137.29 412.17,137.08 412.57,137.15 412.96,137.3 413.35,137.37 413.74,137.29 414.14,137.3 414.53,137.11 414.92,137.24 415.31,137.1 415.71,137.08 416.1,137.12 416.49,137.29 416.88,137.29 417.28,137.23 417.67,137.19 418.06,137.13 418.46,137.14 418.85,137.32 419.24,137.17 419.63,137.3 420.03,137.15 420.42,137.43 420.81,137.13 421.2,137.18 421.6,137.38 421.99,137.34 422.38,137.32 422.77,137.25 423.17,137.11 423.56,137.08 423.95,137.21 424.35,137.39 424.74,137.08 425.13,137.09" fill="none" stroke="#000" stroke-width="2" stroke-linejoin="round"/>
<path d="M425.09,137.25 425.13,137.25 425.33,171.79 425.42,165.07 425.68,157.55 425.94,157.54 426.2,157.61 426.3,219.53 426.69,153.6 427.02,219.36 427.34,143.49 427.78,217.88 428.11,153.83 428.45,167.47 428.73,149.57 428.97,168.67 429.23,219.52 429.68,166.46 430.17,217.64 430.4,167.05 430.68,150.83 431.02,162.54 431.34,145.76 431.55,163.01 431.57,219.43 431.9,148.96 432.37,217.98 432.86,146.06 433.23,162.75 433.52,156.66 433.62,217.54 433.94,149.37 434.34,218.17 434.66,146.77 435.01,217.43 435.28,161.74 435.57,165.23 435.76,160.64 435.96,165.01 436.16,160.36 436.35,162.76 436.55,159.87 436.75,162.99 436.94,165.42 437.14,162.33 437.34,163.38 437.53,165.8 437.73,160.89 437.93,160.32 438.12,159.85 438.32,161.88 438.52,162.23 438.71,164.8 438.91,159.92 439.1,161.54 439.3,162.1 439.5,162.06 439.69,161.23 439.89,164.61 440.09,166.24 440.28,160.65 440.48,167.02 440.68,165.59 440.87,164.28 441.07,167.35 441.27,165.72 441.46,162.21 441.66,163.93 441.86,164.33 442.05,168.14 442.25,165.61 442.44,167.72 442.64,166.13 442.84,166.25 443.03,166.14 443.23,166.98 443.43,164.08 443.62,166.28 443.82,163.52 444.02,167.32 444.21,168.75 444.41,167.51 444.61,164.27 444.8,167.74 445,164.87 445.2,165.83 445.39,168.79 445.59,169.35 445.78,170 445.98,167.93 446.18,166.47 446.37,169.21 446.57,165.03 446.77,170.93 446.96,165.7 447.16,169.49 447.36,163.88 447.55,169.52 447.75,163.94 447.95,167.11 448.14,167.64 448.34,169.02 448.54,167.64 448.73,166.01 448.93,161.63 449.12,160.64 449.32,165.64 449.52,161.72 449.71,165.94 449.91,166.25 450.11,163.7 450.3,165.06 450.5,163.42 450.7,164.11 450.89,169.45 451.09,166.85 451.29,166.22 451.48,166.93 451.68,168.76 451.88,169.61 452.07,169.72 452.27,171.22 452.46,170.52 452.66,168.7 452.86,172.53 453.05,172.23 453.25,172.54 453.45,170.05 453.64,174.39 453.84,173.42 454.04,171.69 454.23,174.32 454.43,171.61 454.63,173.97 454.82,177.13 455.02,175.68 455.22,177.41 455.41,175.8 455.61,176.59 455.8,177.05 456,174.15 456.2,174.01 456.39,175.23 456.59,175.46 456.79,174.93 457.01,142.97 457.35,221.97 457.7,141.32 458.04,222.6 458.38,149.55 458.6,222.6 458.94,157.78 459.29,177.49 459.51,174.77 459.72,179.36 459.92,174.4 460.13,178.94 460.33,177.97 460.53,174.34 460.74,178.31 460.94,172.71 461.15,172.67 461.35,178.49 461.56,174.1 461.76,171.96 461.96,174.22 462.17,173.99 462.37,173.42 462.58,173.49 462.78,173.25 462.99,172.56 463.19,170.71 463.4,176.34 463.6,175.3 463.6,219.53 463.96,146.42 464.31,178.4 464.66,179.84 465.02,219.53 465.37,149.6 465.73,219.53 466.08,145.62 466.44,177.89 466.79,174.27 467.15,219.53 467.5,151.99 467.86,219.53 468.21,147.22 468.57,177.39 468.92,167.9 469.28,219.49 469.76,169.71 470.38,186.13 470.86,169.95 471.34,218.91 471.82,173.04 472.35,218.3 472.93,169.9 473.39,177.74 473.82,219.33 474.15,168.93 474.57,217.4 474.9,186.97 475.31,217.79 475.83,154.05 476.28,219.51 476.6,175.47 477.08,216.63 477.45,146.93 477.82,217.22 478.32,152.78 478.82,218.51 479.17,152.27 479.66,219.51 479.95,218.43 480.28,165.72 480.55,219.49 480.91,168 481.19,219.47 481.55,184.01 481.78,217.89 482.02,190.82 482.25,218.53 482.52,170.02 482.88,218.49 483.12,170.63 483.37,218.64 483.65,169.75 484.03,219.36 484.35,170.74 484.49,217.09 484.7,169.67 484.99,216.97 485.19,176.26 485.35,217.62 485.63,176.94 485.87,218.96 486.16,171.98 486.37,218.96 486.56,178.4 486.82,218.71 487.03,171.14 487.23,218.7 487.45,178.14 487.66,218.6 487.94,166.85 488.18,218.72 488.38,172.42 488.62,217.92 488.84,168.67 489.13,218.92 489.31,169.54 489.55,217.62 489.73,167.05 489.91,217.22 490.08,164.84 490.35,219.03 490.59,165.12 490.85,216.61 491.14,167.36 491.43,217.23 491.64,165.55 491.89,218.65 492.13,172.56 492.37,218.05 492.59,173.57 492.86,216.74 493.07,173.15 493.25,218.72 493.47,172.71 493.67,219.01 493.92,178.76 494.22,217.06 494.49,177.35 494.78,217.61 494.97,173.98 495.22,217.09 495.5,173.74 495.67,218.61 495.97,182.06 496.25,218.01 496.53,181.39 496.82,217.88 497.02,178.58 497.23,217.03 497.5,178.48 497.75,218.17 498.01,175.85 498.26,217.46 498.55,182 498.76,217.59 498.97,179.26 499.27,219.03 499.51,177.48 499.74,219.04 499.95,178.77 500.18,219.07 500.38,185.29 500.65,217.54 500.92,183.27 501.13,218.48 501.29,179.57 501.59,217.61 501.76,184.59 501.99,218.4 502.23,180.56 502.49,218.8 502.78,184.04 502.99,218.66 503.16,187.5 503.39,218.35 503.68,187.85 503.91,218.94 504.08,184.81 504.3,218.91 504.59,181.96 504.8,218.57 505.08,182.45 505.25,219 505.49,183.41 505.67,217.41 505.84,182.88 506.03,218.15 506.24,183.51 506.53,217.44 506.77,189.43 507.02,218.24 507.22,191.34 507.47,218.72 507.64,185 507.83,218.77 508.09,190.11 508.24,222.6" fill="none" stroke="#000" stroke-width="1.25" stroke-linejoin="round"/>
<rect x="428.39" y="178.39" width="0.7" height="44.31" fill="#fff"/>
<rect x="430.48" y="173.87" width="1" height="48.83" fill="#fff"/>
<rect x="433.02" y="182.91" width="0.6" height="39.79" fill="#fff"/>
<rect x="465.11" y="182.91" width="0.8" height="39.79" fill="#fff"/>
<rect x="467.51" y="187.43" width="0.7" height="35.27" fill="#fff"/>
<rect x="470.19" y="180.2" width="0.8" height="42.5" fill="#fff"/>
<rect x="472.33" y="180.2" width="0.8" height="42.5" fill="#fff"/>
<rect x="475.36" y="191.95" width="0.6" height="30.75" fill="#fff"/>
<rect x="478.92" y="196.47" width="0.5" height="26.22" fill="#fff"/>
<path d="M435.67,161.55 435.78,159.21 435.9,164.28 436.02,161.43 436.14,162.16 436.26,165.16 436.37,159.23 436.49,164.27 436.61,165.29 436.73,160.44 436.85,165.97 436.96,162.59 437.08,159.42 437.2,160.09 437.32,161.4 437.44,167.13 437.55,158.94 437.67,163.38 437.79,164.72 437.91,166.58 438.03,169.34 438.14,166.71 438.26,162.33 438.38,163.82 438.5,164.52 438.62,160.06 438.73,166.38 438.85,163.56 438.97,160.41 439.09,160.27 439.21,161.37 439.32,163.01 439.44,166.18 439.56,169.55 439.68,161.51 439.8,161.15 439.91,162.67 440.03,160.3 440.15,163.21 440.27,160.89 440.39,160.49 440.5,169.52 440.62,167.06 440.74,160.01 440.86,165.95 440.98,164.73 441.09,165.02 441.21,161.51 441.33,168.66 441.45,164.69 441.57,165.01 441.68,168.16 441.8,165.3 441.92,161.75 442.04,168.79 442.16,167.19 442.27,164.24 442.39,164.86 442.51,163.11 442.63,166.72 442.75,168.65 442.86,166.64 442.98,162.82 443.1,162.03 443.22,166.65 443.34,163.46 443.45,165.2 443.57,169.08 443.69,167.1 443.81,162.7 443.93,170.22 444.04,164.1 444.16,168.02 444.28,164.37 444.4,169.39 444.52,165.31 444.63,163.66 444.75,170.46 444.87,163 444.99,170.28 445.11,171.14 445.22,164.37 445.34,167.07 445.46,171.19 445.58,166.02 445.69,167.34 445.81,163.31 445.93,163.54 446.05,164.44 446.17,167.53 446.28,165.11 446.4,165.88 446.52,169.89 446.64,169.72 446.76,169.51 446.87,168.33 446.99,171.08 447.11,170.47 447.23,167.25 447.35,164.27 447.46,164.51 447.58,169.77 447.7,166.38 447.82,168.25 447.94,168.98 448.05,167.48 448.17,164.69 448.29,162.49 448.41,169.36 448.53,167.58 448.64,163.5 448.76,165.15 448.88,165.61 449,161.64 449.12,167.8 449.23,159.47 449.35,164.71 449.47,159.37 449.59,159.56 449.71,160.01 449.82,162.33 449.94,162.54 450.06,168.1 450.18,165.36 450.3,164.15 450.41,167.6 450.53,164.62 450.65,161.42 450.77,165.51 450.89,164.2 451,168.92 451.12,166.75 451.24,171.92 451.36,165.88 451.48,166.03 451.59,167.4 451.71,167.67 451.83,165.2 451.95,171.35 452.07,163.95 452.18,173.58 452.3,170.01 452.42,174.2 452.54,168.98 452.66,171.22 452.77,167.32 452.89,174.39 453.01,167.73 453.13,170.6 453.25,172.63 453.36,170.42 453.48,176 453.6,173.87 453.72,176.16 453.84,171 453.95,174.09 454.07,171.28 454.19,171.39 454.31,177.65 454.43,172.89 454.54,171.52 454.66,170.76 454.78,177.93 454.9,178.08 455.02,175.29 455.13,172.87 455.25,178.45 455.37,171.14 455.49,173.73 455.61,179.81 455.72,173.82 455.84,176.65 455.96,178.98 456.08,175.04 456.2,174.77 456.31,175.75 456.43,179.04 456.55,179.82 456.67,181.03 456.79,180.3" fill="none" stroke="#000" stroke-width="1.25" stroke-linejoin="round"/>
<path d="M459.51,178.67 459.63,178.72 459.75,180.84 459.87,174.14 459.99,179.56 460.1,180.32 460.22,179.08 460.34,176.96 460.46,175.28 460.58,179.73 460.69,178.99 460.81,179.9 460.93,176.61 461.05,171.38 461.17,173.08 461.29,172.33 461.4,175.72 461.52,177.39 461.64,173.63 461.76,175.44 461.88,175.75 462,172.26 462.11,173.78 462.23,173.12 462.35,175.95 462.47,167.27 462.59,172.52 462.7,172.71 462.82,171.58 462.94,170.24 463.06,176.46 463.18,175.68 463.3,169.65 463.41,172.15 463.53,170.3 463.65,174.98 463.77,169.41 463.89,174.07 464.01,170.88 464.12,169.95 464.24,173.25 464.36,174.07 464.48,173.35 464.6,176.45 464.72,176.9 464.83,169.47 464.95,171.92 465.07,176.7 465.19,172.39 465.31,175.24 465.42,170.21 465.54,174.25 465.66,177.11 465.78,171.59 465.9,168.78 466.02,170.92 466.13,168.99 466.25,176.23 466.37,174.6 466.49,170.47 466.61,173.09 466.73,175.46 466.84,174.04 466.96,177.95 467.08,170.92 467.2,170.31 467.32,170.59 467.43,171.13 467.55,170.42 467.67,168.91 467.79,174.46 467.91,174.3 468.03,168.32 468.14,169.14 468.26,170.94 468.38,169.82 468.5,171.06 468.62,173.86 468.74,171.65 468.85,174.34 468.97,175.54 469.09,173.48 469.21,169.47 469.33,175.12 469.45,175.91 469.56,174.3 469.68,169.66 469.8,168.82 469.92,173.98 470.04,168.17 470.15,172.25 470.27,170.48 470.39,170.64 470.51,172.53 470.63,169.17 470.75,168.7 470.86,172.3 470.98,173.75 471.1,168.37 471.22,170.37 471.34,173.22 471.46,174.91 471.57,172.95 471.69,172.54 471.81,169.41 471.93,170.35 472.05,171.98 472.16,168.61 472.28,171.34 472.4,168.98 472.52,175.75 472.64,175.62 472.76,169.02 472.87,173.2 472.99,174.1 473.11,175.27 473.23,175.69 473.35,173.59 473.47,168.8 473.58,174.67 473.7,174.19 473.82,169.26" fill="none" stroke="#000" stroke-width="1.25" stroke-linejoin="round"/>
<path d="M50,115.6 50,198.71 50.39,197.46 50.62,197.37 50.85,197.18 51.08,197.29 51.32,196.3 51.55,196.14 51.78,196.2 51.94,205.04 52.01,196.01 52.25,196.02 52.48,195.87 52.71,196.04 52.94,196.45 53.18,196.25 53.41,196.05 53.64,196.21 53.87,196.3 54.11,195.1 54.34,195.69 54.57,195.33 54.8,195.84 55.03,194.85 55.27,194.88 55.38,204.25 55.5,195.45 55.73,194.71 55.96,195.45 56.2,195.39 56.43,195.19 56.66,195.07 56.89,194.22 57.13,194.11 57.36,194.28 57.59,194.51 57.82,193.84 58.06,193.93 58.29,194.53 58.52,194.28 58.75,193.58 58.83,205.77 58.98,193.85 59.22,193.59 59.45,193.85 59.68,193.34 59.91,193.79 60.15,192.68 60.38,192.78 60.61,193.08 60.84,192.41 61.08,192.68 61.31,192.71 61.54,192.54 61.77,192.39 62.01,191.97 62.24,192.14 62.28,203.38 62.47,192.94 62.7,191.83 62.93,191.98 63.17,192.09 63.4,192.13 63.63,191.5 63.86,192.51 64.1,192.3 64.33,192.03 64.56,191.14 64.79,191.43 65.03,191.47 65.26,191.71 65.49,191.85 65.72,191.95 65.72,202.25 65.96,191.68 66.19,191.2 66.42,191.3 66.65,190.49 66.89,190.49 67.12,190.85 67.35,191.25 67.58,190.99 67.81,191.27 68.05,190.43 68.28,190.68 68.51,189.96 68.74,190.62 68.98,189.9 69.17,202.92 69.21,190.06 69.44,190.35 69.67,189.73 69.91,190.36 70.14,190.36 70.37,190.41 70.6,189.94 70.84,189.44 71.07,189.7 71.3,189.16 71.53,189.4 71.76,189.39 72,189.35 72.23,189.83 72.46,189.09 72.62,201.36 72.69,189.63 72.93,189.53 73.16,189.38 73.39,188.76 73.62,189.09 73.86,189.01 74.09,188.8 74.32,188.08 74.55,188.85 74.79,188.73 75.02,188.72 75.25,188.58 75.48,188.53 75.71,187.82 75.95,187.58 76.06,202.13 76.18,187.64 76.41,188.49 76.64,187.97 76.88,187.5 77.11,188.31 77.34,187.15 77.57,187.8 77.81,187.61 78.04,187.01 78.27,186.97 78.5,187.76 78.74,187.4 78.97,186.99 79.2,187.26 79.43,186.61 79.51,200.63 79.67,186.5 79.9,186.86 80.13,186.8 80.36,186.65 80.59,187.09 80.83,186.8 81.06,187.01 81.29,186.23 81.52,186.74 81.76,186.89 81.99,185.93 82.22,186.52 82.45,185.72 82.69,186.26 82.92,185.94 82.96,205.81 83.15,186.04 83.38,185.46 83.62,185.55 83.85,185.38 84.08,185.75 84.31,186.17 84.54,186.05 84.78,186.01 85.01,185.48 85.24,184.91 85.47,185.32 85.71,185.4 85.94,185.71 86.17,185.33 86.4,185.49 86.4,201.6 86.64,185.09 86.87,184.45 87.1,185.03 87.33,184.38 87.57,185.33 87.8,184.89 88.03,184.37 88.26,184.64 88.49,185.01 88.73,184.61 88.96,184.3 89.19,183.75 89.42,184.55 89.66,184.66 89.85,203.41 89.89,183.96 90.12,184.21 90.35,184.09 90.59,184.1 90.82,183.63 91.05,183.32 91.28,183.93 91.52,183.13 91.75,183.66 91.98,183.5 92.21,183.72 92.45,183.85 92.68,183.65 92.91,183.52 93.14,183.23 93.3,201.27 93.37,182.67 93.61,183.19 93.84,182.63 94.07,183.18 94.3,182.84 94.54,183.26 94.77,182.21 95,182.79 95.23,182.37 95.47,182.4 95.7,182.42 95.93,182.65 96.16,181.88 96.4,182.24 96.63,182.58 96.74,198 96.86,182.07 97.09,181.92 97.32,182.2 97.56,182.19 97.79,181.42 98.02,181.55 98.25,182.16 98.49,181.32 98.72,182.18 98.95,181.2 99.18,181.16 99.42,181.98 99.65,180.9 99.88,180.96 100.11,181.79 100.19,201.94 100.35,181.41 100.58,181.75 100.81,181.63 101.04,181.59 101.27,180.99 101.51,181.07 101.74,180.55 101.97,181.31 102.2,181.06 102.44,181.15 102.67,181.09 102.9,180.81 103.13,180.52 103.37,180.6 103.6,181.25 103.64,198.56 103.83,180.59 104.06,180.39 104.3,180.22 104.53,180.79 104.76,180.63 104.99,181.08 105.23,180.47 105.46,180.69 105.69,180.38 105.92,180.25 106.15,180.73 106.39,180.8 106.62,179.99 106.85,179.94 107.08,203.71 107.08,180.16 107.32,180.64 107.55,180.59 107.78,179.47 108.01,179.72 108.25,180.36 108.48,180.01 108.71,180.24 108.94,179.5 109.18,179.51 109.41,179.24 109.64,179.52 109.87,179.78 110.1,179.13 110.34,179.73 110.53,201.3 110.57,179.88 110.8,179.77 111.03,179.34 111.27,179.67 111.5,178.95 111.73,179.32 111.96,178.78 112.2,179.13 112.43,179.12 112.66,179.17 112.89,179.5 113.13,179.27 113.36,178.57 113.59,178.79 113.82,178.64 113.98,198.31 114.05,179.29 114.29,178.54 114.52,178.96 114.75,178.49 114.98,179.32 115.22,178.94 115.45,178.55 115.68,178.18 115.91,179.02 116.15,178.05 116.38,178.38 116.61,178.92 116.84,179.11 117.08,177.98 117.31,178.25 117.42,200.46 117.54,178.53 117.77,178.89 118.01,178.38 118.24,178.15 118.47,178.56 118.7,177.7 118.93,177.89 119.17,178.77 119.4,178.4 119.63,177.64 119.86,177.79 120.1,177.69 120.33,178.39 120.56,177.53 120.79,177.76 120.87,197.55 121.03,177.7 121.26,178.19 121.49,177.37 121.72,178.32 121.96,178.06 122.19,177.49 122.42,177.81 122.65,177.22 122.88,177.25 123.12,177.4 123.35,177.75 123.58,177.62 123.81,177.72 124.05,177.7 124.28,178.03 124.32,196.01 124.51,177.17 124.74,177.33 124.98,177.55 125.21,177.52 125.44,177.66 125.67,177.75 125.91,177.62 126.14,177.03 126.37,176.62 126.6,176.88 126.83,177.26 127.07,176.96 127.3,177.45 127.53,177.47 127.76,193.98 127.76,176.86 128,176.8 128.23,177.29 128.46,176.3 128.69,177.24 128.93,176.8 129.16,176.7 129.2,215.09 129.39,177.5 129.62,177.27 129.86,177.02 130.09,176.9 130.32,176.96 130.55,177.05 130.79,177.81 131.02,177.89 131.21,200.26 131.25,177.85 131.48,177.65 131.71,177.13 131.95,178.15 132.18,177.23 132.3,215.09 132.41,177.54 132.64,177.92 132.88,178.16 133.11,177.88 133.34,177.57 133.57,178.38 133.81,178.39 134.04,178.15 134.27,177.83 134.5,178.37 134.66,196.91 134.74,177.77 134.97,178.35 135.2,178.1 135.43,178.3 135.66,178.51 135.9,178.71 136.13,178.51 136.36,178.35 136.59,179.24 136.83,179.15 137.06,179.28 137.29,178.67 137.52,179.4 137.76,179.39 137.99,179.45 138.1,201.54 138.22,180.21 138.45,180.13 138.69,179.45 138.92,180.09 139.15,180.34 139.38,179.78 139.61,180.93 139.85,181.18 140.08,180.25 140.31,180.5 140.54,180.98 140.78,181.45 141.01,180.97 141.24,181.86 141.47,181.68 141.55,197.19 141.71,181.84 141.94,182.47 142.17,182.06 142.4,182.21 142.64,181.71 142.87,182.58 143.1,182.54 143.33,183.14 143.57,183.12 143.8,183.33 144.03,182.57 144.26,183.73 144.49,183.25 144.73,183.17 144.96,183.17 145,202.37 145.08,215.09 145.19,184.23 145.42,183.48 145.66,184.04 145.89,184.08 146.12,183.69 146.35,184.8 146.59,184 146.82,184 147.05,184.17 147.28,184.79" fill="none" stroke="#000" stroke-width="1.7" stroke-linejoin="round"/>
<path d="M82.14,186.35 82.34,202.25 82.92,186.13 83.31,201.54 83.69,185.9" fill="none" stroke="#000" stroke-width="1" stroke-linejoin="round"/>
<path d="M147.5,184.49 147.59,163.78 147.71,165.31 148.1,151.99 148.47,166.95 148.92,122.42 149.39,165.55 149.75,121.58 150.11,174.57 150.45,120.37 150.93,173.41 151.48,131.14 151.85,164.79 152.4,155.1 152.67,187.74 153.09,155.79 153.55,192.39 153.91,155.82 154.39,192.59 154.77,154.45 154.92,176.68 155.3,126.73 155.86,175.25 156.34,119.88 156.82,178.23 157.21,119.39 157.75,169.26 158.08,180.03 158.47,160.61 158.95,185.84 159.57,161.03 159.66,165.92 159.78,165.81 159.89,157.56 160.01,167.41 160.13,163.13 160.24,160.49 160.36,161.73 160.48,160.09 160.59,164.7 160.71,166.98 160.83,166.22 160.94,162.49 161.06,162.83 161.18,164.14 161.29,158.21 161.41,164.21 161.53,166.4 161.64,161.92 161.76,162.15 161.88,159.83 162,162.45 162.11,168.86 162.23,163.39 162.35,166.88 162.46,166.33 162.58,160.18 162.7,158 162.81,159.09 162.93,166.5 163.05,164.34 163.16,159.37 163.28,159.64 163.4,168.76 163.51,166.27 163.63,162.7 163.75,167.34 163.86,169.43 163.98,167.17 164.1,163.53 164.21,161.59 164.33,161.39 164.45,163.44 164.57,163.13 164.68,164.1 164.8,161 164.92,162.73 165.03,162.42 165.15,159.93 165.27,169.08 165.38,170.06 165.5,164.41 165.62,165.46 165.73,160.17 165.85,167.16 165.97,162.96 166.08,162.79 166.2,168.12 166.32,170.83 166.43,166.13 166.55,168.67 166.67,168.84 166.79,165.76 166.9,169.04 167.02,164.67 167.14,164.04 167.25,165.75 167.37,164.68 167.49,168.94 167.6,164.58 167.72,161.37 167.84,161.43 167.95,169.97 168.07,167.49 168.19,162.94 168.3,164.39 168.42,166.74 168.54,161.56 168.65,160.83 168.77,164.65 168.89,168.24 169.01,159.97 169.12,165.51 169.24,167.03 169.36,169.52 169.47,160.05 169.59,162.92 169.71,170.03 169.82,168.71 169.94,160.07 170.06,169.83 170.17,162.83 170.29,164.01 170.41,164.75 170.52,162.47 170.64,166.52 170.76,163.11 170.87,160.14 170.99,163.59 171.11,164.08 171.22,163.01 171.34,167.87 171.46,166.1 171.58,161.61 171.69,163.26 171.81,168.4 171.93,159.66 172.04,164.88 172.16,166.72 172.28,167.79 172.39,158.76 172.51,160.95 172.63,179.19 172.74,167.07 172.86,159.4 172.98,167.5 173.09,163.12 173.21,161.38 173.33,158.22 173.44,161.1 173.56,167.75 173.68,162.95 173.8,158.4 173.91,165.79 174.03,167.87 174.15,168.2 174.26,159.21 174.38,158.05 174.5,163.51 174.61,165.3 174.73,164.24 174.85,166.78 174.96,163.8 175.08,163.4 175.2,162.7 175.31,167.67 175.43,157.64 175.55,161.69 175.66,162.34 175.78,159.43 175.9,168.46 176.02,162.28 176.13,164.83 176.25,161.73 176.37,158.34 176.48,168.43 176.6,167.28 176.72,165.28 176.83,163.22 176.95,159.87 177.07,161.02 177.18,163.21 177.3,167.39 177.42,163.86 177.53,164.66 177.65,168.5 177.77,159.3 177.88,160.21 178,162.91 178.12,167.22 178.23,163.47 178.35,166.46 178.47,162.77 178.59,169.9 178.7,163.42 178.82,163.98 178.82,120.42 179.16,173.41 179.5,121.62 179.83,190.28 180.17,158.96 180.17,159.18 180.29,169.73 180.41,163.15 180.53,162.15 180.64,164.73 180.76,165.29 180.88,162.06 181,164.02 181.12,165.47 181.23,162.7 181.35,163.27 181.47,169.26 181.59,166.13 181.71,159.95 181.82,168.44 181.94,164.25 182.06,162.92 182.18,168.89 182.3,167.97 182.42,166.55 182.53,163.35 182.65,168.82 182.77,161.41 182.89,162.39 183.01,160.99 183.12,167.49 183.24,164.02 183.36,160.35 183.48,165.23 183.6,163.69 183.71,165.54 183.83,161.73 183.95,163.02 184.07,161.59 184.19,159.07 184.3,161.28 184.42,163.66 184.54,167.34 184.66,164.35 184.78,159.34 184.89,158.89 185.01,168.86 185.13,162.51 185.13,193.61 185.58,130.09 186.06,182.55 186.5,123.21 186.85,186.49 187.31,160.12 187.71,193.03 188.18,125.87 188.53,185.93 188.99,134.75 189.44,184.27 189.81,159.65 190.23,186.45 190.81,164.03 191.19,193.91 191.22,191.44 191.61,140.15 191.93,189.55 192.29,136.1 192.74,190.27 193.22,145.1 193.72,193.34 194.05,135.27 194.48,188.22 194.98,141.08 195.37,194.11 195.79,164.25 196.14,193.98 196.53,132.91 196.91,193.42 197.43,158.24 197.8,189.61 198.29,128.13 198.65,191.86 199.11,193.24 199.33,131.49 199.67,192.11 200.03,134.37 200.37,190.62 200.7,137.76 201.07,189.43 201.37,136.78 201.73,193.92 202.08,135.51 202.37,192.02 202.7,132.52 203,193.96 203.23,134.52 203.57,190.12 203.78,133.41 204.15,190.26 204.45,134.61 204.67,191.45 204.95,137.6 205.27,192.75 205.5,135 205.73,192.68 206.05,133.58 206.27,191.32 206.53,134.32 206.87,193.8 207.24,133.12 207.46,193.55 207.8,138.37 208.02,193.88 208.12,191.85 208.34,134.45 208.55,191.57 208.77,137.19 209,194.12 209.18,135.87 209.38,192.3 209.53,137.59 209.76,190.51 209.96,135.16 210.2,193.36 210.41,137.32 210.56,193.49 210.71,138.67 210.87,193.91 211.06,134.83 211.28,193.97 211.51,136.89 211.76,193.45 211.96,135.15 212.21,194.1 212.41,135.17 212.6,191.53 212.79,135.33 213.04,192.55 213.26,136.15 213.47,193.95 213.64,135.49 213.85,193.63 214.09,139.77 214.24,191.4 214.48,138.51 214.65,192.61 214.88,140.29 215.09,193.94 215.27,137.31 215.47,194.13 215.66,137.67 215.89,192.73 216.06,140.03 216.25,191.75 216.48,137.88 216.64,192.53 216.87,140.25 217.08,192.62 217.24,138.16 217.43,193.79 217.65,138.77 217.79,191.26 217.97,138.65 218.14,193.79 218.38,138.63 218.57,190.85 218.82,142.87 219.03,193.17 219.26,140.14 219.41,191.77 219.64,139.84 219.86,194.09 220.09,143.27 220.3,193.59 220.48,141.78 220.63,193.56 220.87,141.63 221.01,192.2 221.22,140.62 221.41,192.26 221.56,142.04 221.75,193.32 221.99,141.94 222.22,194.06 222.38,142.45 222.54,193.76 222.75,143.67 222.99,192.61 223.2,145.96 223.43,193.94 223.62,142.35 223.78,192.12 223.98,142.42 224.16,191.56 224.35,144.65 224.55,192.19 224.77,144.38 224.92,194.12 225.07,146.48 225.32,193.69 225.46,145.58 225.6,191.32 225.76,144.82 225.97,191.56 226.14,144.47 226.29,193.74 226.54,146.04 226.74,192.12 226.96,147.67 227.15,192.25 227.34,145.36 227.5,192.02 227.75,147.11 227.98,193.58 228.22,146.2 228.41,191.3 228.55,149.21 228.78,192.64 229.01,148.42 229.21,193.28 229.43,149.95 229.65,193.55 229.89,165.95 231.63,165.95" fill="none" stroke="#000" stroke-width="1.25" stroke-linejoin="round"/>
<path d="M147.71,165.31 147.83,160.82 147.94,165.58 148.06,159.27 148.18,165.66 148.29,159.37 148.41,165.72 148.53,165.34 148.64,167.95 148.76,161.47 148.87,168.97 148.99,161.51 149.11,164.52 149.22,160.67 149.34,163.22 149.46,159.76 149.57,164.34 149.69,167.4 149.81,160.01 149.92,160.32 150.04,160.89 150.16,163.44 150.27,167.01 150.39,169.62 150.5,161.19 150.62,162.81 150.74,165.13 150.85,164.35 150.97,161.44 151.09,167.35 151.2,169.58 151.32,168.8 151.44,159.32 151.55,167.59 151.67,159.44 151.78,169.5 151.9,162.68 152.02,164.21 152.13,164.56 152.25,169.8 152.37,163.78 152.48,163.27 152.6,160.96 152.72,161 152.83,161.21 152.95,169.17 153.06,160.51 153.18,164.25 153.3,160.59 153.41,160.17 153.53,168.94 153.65,165.45 153.76,164.44 153.88,163.42 154,159.85 154.11,169.43 154.23,163.42 154.35,164.59 154.46,168.38 154.58,162.54 154.69,162.08 154.81,168.58 154.93,168.69 155.04,164.63 155.16,159.66 155.28,160.99 155.39,162.76 155.51,165.6 155.63,159.72 155.74,164.77 155.86,168.33 155.97,163.46 156.09,168.81 156.21,160.63 156.32,164.47 156.44,161.98 156.56,160.78 156.67,161.44 156.79,161.41 156.91,161.47 157.02,165.71 157.14,169.5 157.25,167.11 157.37,162.91 157.49,166.45 157.6,159.35 157.72,166.46 157.84,162.29 157.95,168.5 158.07,164.97 158.19,161.3 158.3,160.15 158.42,169.03 158.54,161.27 158.65,159.57 158.77,169.55 158.88,161.17 159,169.35 159.12,162.62 159.23,159.33 159.35,168.89 159.47,161.89 159.58,168.63 159.7,163.61 159.82,166.13 159.93,163.88 160.05,161.76 160.16,167.75 160.28,166.63 160.4,168.58 160.51,165.48 160.63,168.94 160.75,169.5 160.86,162.03 160.98,162.34 161.1,169.49 161.21,162.87 161.33,162.65 161.44,166.16 161.56,166.68 161.68,167.37 161.79,163.41 161.91,168.39 162.03,163.99 162.14,165.5 162.26,164.37 162.38,161.76 162.49,167.41 162.61,166.48 162.73,164.7 162.84,166.35 162.96,162.57 163.07,168.29 163.19,160.09 163.31,159.81 163.42,168.46 163.54,164.64 163.66,166.14 163.77,166.15 163.89,167.68 164.01,164.1 164.12,161.29 164.24,167.29 164.35,161.49 164.47,161.87 164.59,163.12 164.7,160.39 164.82,163.42 164.94,161.32 165.05,159.67 165.17,160.75 165.29,163.7 165.4,166.71 165.52,163.4 165.63,162.16 165.75,162.17 165.87,165.58 165.98,161.85 166.1,166.28 166.22,168.44 166.33,159.64 166.45,160.07 166.57,165.31 166.68,163.97 166.8,169.64 166.91,159.71 167.03,166.05 167.15,163.32 167.26,168.37 167.38,168.33 167.5,163.58 167.61,162.66 167.73,159.42 167.85,162.38 167.96,163.32 168.08,163.39 168.2,166.89 168.31,165.88 168.43,163.17 168.54,168.36 168.66,166.6 168.78,168.02 168.89,169.42 169.01,165.02 169.13,165.84 169.24,163.87 169.36,165.58 169.48,169.03 169.59,160.67 169.71,169.38 169.82,169.57 169.94,169.56 170.06,161.43 170.17,165.9 170.29,159.77 170.41,166.44 170.52,165.47 170.64,162.39 170.76,159.76 170.87,160.12 170.99,165.82 171.1,162.59 171.22,169.15 171.34,163.74 171.45,162.95 171.57,166.86 171.69,162.85 171.8,166.56 171.92,161.67 172.04,169.04 172.15,164.27 172.27,159.73 172.39,163.13 172.5,159.83 172.62,159.76 172.73,161.71 172.85,161.28 172.97,162.01 173.08,164.39 173.2,161.43 173.32,161.44 173.43,160.66 173.55,169.73 173.67,169.41 173.78,164.88 173.9,162.19 174.01,165.36 174.13,165.75 174.25,169.58 174.36,163.37 174.48,159.68 174.6,163.27 174.71,167.2 174.83,163.06 174.95,165.88 175.06,165.92 175.18,169.21 175.29,162.23 175.41,169.79 175.53,160.89 175.64,169.73 175.76,161.55 175.88,166.09 175.99,166.1 176.11,164.6 176.23,167.84 176.34,167.61 176.46,162.23 176.58,160.17 176.69,168.31 176.81,166.88 176.92,159.4 177.04,162.52 177.16,160.08 177.27,165.71 177.39,161.66 177.51,162.27 177.62,161.91 177.74,164.75 177.86,166.69 177.97,165.94 178.09,168.28 178.2,168.97 178.32,165.77 178.44,160.72 178.55,166.29 178.67,163.86 178.79,161.07 178.9,168.69 179.02,165.87 179.14,165.88 179.25,162.25 179.37,160.22 179.48,169.72 179.6,164.03 179.72,169.77 179.83,166.61 179.95,165.56 180.07,166.82 180.18,165.43 180.3,165.97 180.42,164.51 180.53,167.15 180.65,165.66 180.77,167.48 180.88,165.35 181,162.29 181.11,169.48 181.23,159.22 181.35,168.22 181.46,161.41 181.58,166.75 181.7,169.05 181.81,161.44 181.93,163.81 182.05,167.01 182.16,165.77 182.28,160.64 182.39,162.31 182.51,166.85 182.63,167.29 182.74,163.8 182.86,168.52 182.98,167.37 183.09,161.26 183.21,162.11 183.33,169.53 183.44,165.06 183.56,165.57 183.67,161.97 183.79,165.29 183.91,167.39 184.02,160.88 184.14,167.75 184.26,162.94 184.37,166.81 184.49,163.24 184.61,167.97 184.72,160.51 184.84,165.88 184.96,162.59 185.07,161.85 185.19,164.84 185.3,164.09 185.42,168.54 185.54,164.07 185.65,164.16 185.77,160.31 185.89,166.07 186,168.18 186.12,165.5 186.24,161.48 186.35,169.68 186.47,169.42 186.58,159.21 186.7,163.91 186.82,162.18 186.93,164.86 187.05,167.73 187.17,162.73 187.28,167.24 187.4,165.01 187.52,167.57 187.63,160.18 187.75,165.63 187.86,162.44 187.98,167.87 188.1,163.35 188.21,166.67 188.33,168.54 188.45,166.45 188.56,169.12 188.68,163.41 188.8,163.91 188.91,160.75 189.03,169.51 189.14,165.47 189.26,159.36 189.38,166.12 189.49,169.18 189.61,161.32 189.73,168.81 189.84,162.23 189.96,164.22 190.08,160.51 190.19,164.36 190.31,162.6 190.43,167.07 190.54,159.38 190.66,167.58 190.77,160.93 190.89,162.57 191.01,164.69 191.12,165.84 191.24,168.9 191.36,161.39 191.47,167.39 191.59,160.55 191.71,160.39 191.82,167.57 191.94,166.72 192.05,162.26 192.17,161.7 192.29,169.28 192.4,161.05 192.52,161.15 192.64,163.2 192.75,160.35 192.87,159.46 192.99,167.63 193.1,159.8 193.22,160.67 193.33,163.57 193.45,168.63 193.57,159.61 193.68,161.92 193.8,165.88 193.92,166.38 194.03,159.72 194.15,167.35 194.27,161.11 194.38,165.1 194.5,162.42 194.62,161.09 194.73,168.75 194.85,167.04 194.96,168.59 195.08,165.54 195.2,168.3 195.31,160.1 195.43,161.45 195.55,163.64 195.66,167.78 195.78,167.57 195.9,163.52 196.01,160.18 196.13,159.91 196.24,159.95 196.36,166.38 196.48,162.4 196.59,164.3 196.71,163.91 196.83,162.62 196.94,166.68 197.06,166.96 197.18,165.43 197.29,167.33 197.41,160.68 197.52,165.92 197.64,169.39 197.76,163.09 197.87,159.35 197.99,163.98 198.11,166.8 198.22,160.24 198.34,163.12 198.46,163.24 198.57,164.92 198.69,161.62 198.81,162.69 198.92,164.01 199.04,166.26 199.15,161.49 199.27,160.15 199.39,168.83 199.5,169.52 199.62,168.75 199.74,160.55 199.85,163.26 199.97,165.59 200.09,159.46 200.2,159.79 200.32,165.31 200.43,165.88 200.55,164.15 200.67,163.52 200.78,160.88 200.9,160.49 201.02,166.78 201.13,160.75 201.25,168.98 201.37,167.59 201.48,165.35 201.6,169 201.71,166.12 201.83,169.51 201.95,161.26 202.06,162.63 202.18,167.04 202.3,164.25 202.41,165.67 202.53,161.11 202.65,166.68 202.76,167.3 202.88,161.57 203,161.78 203.11,162.34 203.23,169.12 203.34,169.36 203.46,159.94 203.58,159.49 203.69,167.63 203.81,164.59 203.93,164.89 204.04,166.79 204.16,168.97 204.28,167.12 204.39,159.62 204.51,165.11 204.62,167.62 204.74,169 204.86,162.95 204.97,160.89 205.09,167.13 205.21,161.8 205.32,169.57 205.44,168.43 205.56,163.03 205.67,168.8 205.79,164.87 205.9,164.66 206.02,169.5 206.14,161.08 206.25,161.97 206.37,161.42 206.49,162.88 206.6,166.81 206.72,162.44 206.84,163.74 206.95,163.19 207.07,161.83 207.19,166.73 207.3,160.11 207.42,164.9 207.53,166.45 207.65,164.21 207.77,159.49 207.88,162.33 208,168.79 208.12,166.87 208.23,162.66 208.35,159.65 208.47,164.09 208.58,164.07 208.7,169.79 208.81,168.18 208.93,161.26 209.05,167.24 209.16,164.11 209.28,162.56 209.4,163.49 209.51,161.68 209.63,162.97 209.75,166.52 209.86,163.59 209.98,162.42 210.09,169.07 210.21,159.56 210.33,163.24 210.44,159.46 210.56,160.66 210.68,169.47 210.79,168.92 210.91,160.73 211.03,167.2 211.14,160.14 211.26,159.42 211.37,161.65 211.49,163.18 211.61,165.15 211.72,160.17 211.84,163.13 211.96,168.81 212.07,162.1 212.19,166.29 212.31,168.36 212.42,165.92 212.54,160.7 212.66,161.93 212.77,165.77 212.89,161.07 213,163.87 213.12,166.21 213.24,168.72 213.35,162.57 213.47,167.17 213.59,164.44 213.7,167.26 213.82,163.11 213.94,169.18 214.05,166.84 214.17,163.17 214.28,160.87 214.4,162.07 214.52,166.75 214.63,165.59 214.75,164.49 214.87,159.77 214.98,167.92 215.1,161.44 215.22,168.6 215.33,160.9 215.45,168.62 215.56,165.75 215.68,165.88 215.8,162.73 215.91,166.45 216.03,161.26 216.15,159.36 216.26,162.19 216.38,169.57 216.5,168.78 216.61,161.28 216.73,165.47 216.85,164.37 216.96,160.84 217.08,162.23 217.19,164.21 217.31,166.62 217.43,168.95 217.54,168.6 217.66,169.24 217.78,165.56 217.89,159.76 218.01,168.63 218.13,164.34 218.24,163.27 218.36,159.82 218.47,159.25 218.59,162.85 218.71,163.65 218.82,162.3 218.94,165.18 219.06,161.53 219.17,160.93 219.29,167.52 219.41,164.2 219.52,166.48 219.64,168.47 219.75,165.34 219.87,163.39 219.99,164.31 220.1,165.73 220.22,163.91 220.34,164.45 220.45,169.51 220.57,162.49 220.69,161.44 220.8,164.91 220.92,162.9 221.04,167.24 221.15,162.07 221.27,164.98 221.38,163.01 221.5,162.67 221.62,165.22 221.73,167.82 221.85,159.86 221.97,161.02 222.08,165.74 222.2,165.79 222.32,160.82 222.43,161.83 222.55,166.86 222.66,161.1 222.78,166.21 222.9,160.88 223.01,168.63 223.13,159.76 223.25,165.92 223.36,160.04 223.48,167.19 223.6,165.84 223.71,167.11 223.83,163.58 223.94,167.11 224.06,162.65 224.18,162.6 224.29,161.67 224.41,165 224.53,165.26 224.64,167.15 224.76,164.64 224.88,164.2 224.99,166.86 225.11,163.89 225.23,167.98 225.34,165.36 225.46,166.36 225.57,164.14 225.69,161.58 225.81,169.47 225.92,165.14 226.04,168.73 226.16,166.04 226.27,162 226.39,163.07 226.51,162.2 226.62,161.17 226.74,166.19 226.85,165.85 226.97,167.8 227.09,166.33 227.2,163.25 227.32,162.7 227.44,162.27 227.55,164.11 227.67,169.26 227.79,162.96 227.9,160.82 228.02,160.55 228.13,169.56 228.25,165.8 228.37,164.59 228.48,163.19 228.6,161.36 228.72,169.51 228.83,160.26 228.95,165.18 229.07,159.56 229.18,161.44 229.3,165.6 229.42,159.73 229.53,164.87 229.65,168.65 229.76,167.67" fill="none" stroke="#000" stroke-width="1.25" stroke-linejoin="round"/>
<path d="M50,224 50,244.14 50.39,242.83 50.62,242.39 50.85,242.24 51.08,241.78 51.32,242.04 51.55,241.69 51.78,241.8 51.94,245 52.01,241.88 52.25,241.78 52.48,241.82 52.71,241.72 52.94,241.54 53.18,241.54 53.41,241.48 53.64,241.62 53.87,241.64 54.11,241.48 54.34,241.29 54.57,241.36 54.78,244.01 54.8,241.29 55.03,241.21 55.27,241.24 55.5,241.21 55.73,241.2 55.96,241.24 56.2,241.31 56.43,241.17 56.66,241.3 56.89,241.4 57.13,241.09 57.36,241.08 57.59,241.42 57.63,244.53 57.82,241.21 58.06,241.33 58.29,241.33 58.52,241.41 58.75,241.28 58.98,241.38 59.22,241.18 59.45,241.06 59.68,241.34 59.91,241.36 60.15,241.24 60.38,241.42 60.48,243.76 60.61,241.39 60.84,241.11 61.08,241.25 61.31,241.13 61.54,241.11 61.77,241.33 62.01,241.39 62.24,241.44 62.47,241.15 62.7,241.23 62.93,241.09 63.17,241.18 63.32,243.8 63.4,241.25 63.63,241.29 63.86,241.41 64.1,241.4 64.33,241.15 64.56,241.17 64.79,241.28 65.03,241.4 65.26,241.35 65.49,241.27 65.72,241.14 65.96,241.28 66.17,244.49 66.19,241.3 66.42,241.19 66.65,241.13 66.89,241.27 67.12,241.25 67.35,241.43 67.58,241.4 67.81,241.16 68.05,241.41 68.28,241.37 68.51,241.24 68.74,241.05 68.98,241.02 69.02,244.53 69.21,241.29 69.44,241.37 69.67,241.27 69.91,241.42 70.14,241.32 70.37,241.14 70.6,241.18 70.84,241.04 71.07,241.31 71.3,241.26 71.53,241.12 71.76,241.33 71.86,243.89 72,241.02 72.23,241.29 72.46,241.06 72.69,241.26 72.93,241.05 73.16,241.08 73.39,241.31 73.62,241.41 73.86,241.15 74.09,241.29 74.32,241.29 74.55,241.12 74.71,244.11 74.79,241.31 75.02,241.06 75.25,241.09 75.48,241.08 75.71,241.29 75.95,241.01 76.18,241.21 76.41,241.29 76.64,241.37 76.88,241.08 77.11,241.12 77.34,241.02 77.55,243.73 77.57,241.4 77.81,241.04 78.04,241.32 78.27,241.28 78.5,241.37 78.74,241.21 78.97,241.33 79.2,241.4 79.43,241.01 79.67,241.36 79.9,241.26 80.13,241.33 80.36,241.06 80.4,244.56 80.59,241.02 80.83,241.21 81.06,241.08 81.29,241.07 81.52,241.05 81.76,241.35 81.99,241.2 82.22,241.13 82.45,241.28 82.69,241.07 82.92,241.14 83.15,241.06 83.25,244.53 83.38,241.22 83.62,241.36 83.85,241.31 84.08,241.2 84.31,241 84.54,241.32 84.78,241.05 85.01,241.3 85.24,241.15 85.47,241.02 85.71,241.21 85.94,241.31 86.09,244.01 86.17,241.08 86.4,241.11 86.64,241.13 86.87,241.31 87.1,241.08 87.33,241.04 87.57,241.2 87.8,241.28 88.03,241.14 88.26,241.06 88.49,241.2 88.73,241.16 88.94,244.55 88.96,241 89.19,241.36 89.42,241.1 89.66,241.37 89.89,241.28 90.12,241.1 90.35,241.32 90.59,241.11 90.82,241.05 91.05,241.1 91.28,241.04 91.52,241.13 91.75,241.17 91.79,244.85 91.98,241.24 92.21,241.31 92.45,241.17 92.68,241.13 92.91,241.23 93.14,240.97 93.37,241.24 93.61,241.3 93.84,241.15 94.07,241.29 94.3,241.11 94.54,241.26 94.63,244.09 94.77,241.09 95,241.09 95.23,241.36 95.47,241.14 95.7,241.14 95.93,241.22 96.16,241.22 96.4,241.12 96.63,241.04 96.86,241.04 97.09,241.01 97.32,241.15 97.48,243.96 97.56,241.06 97.79,241.3 98.02,241.37 98.25,241.31 98.49,241.35 98.72,241.19 98.95,241.2 99.18,240.95 99.42,241 99.65,241.01 99.88,241.05 100.11,241.29 100.33,243.84 100.35,241.01 100.58,241.04 100.81,241.35 101.04,241.19 101.27,241.25 101.51,241.13 101.74,241.17 101.97,241.16 102.2,241.1 102.44,241.03 102.67,240.98 102.9,241.15 103.13,241.2 103.17,244.72 103.37,241.35 103.6,241.03 103.83,241.34 104.06,241.23 104.3,240.96 104.53,241.22 104.76,241.34 104.99,241.3 105.23,240.94 105.46,241.18 105.69,241.2 105.92,240.96 106.02,244.72 106.15,241.25 106.39,241.3 106.62,240.97 106.85,241.19 107.08,241.15 107.32,241.28 107.55,241.17 107.78,240.96 108.01,240.96 108.25,241.27 108.48,241.07 108.71,241.29 108.87,244.3 108.94,241.01 109.18,241.23 109.41,241.09 109.64,241.26 109.87,241.22 110.1,241.07 110.34,241.2 110.57,241.25 110.8,241.2 111.03,241.01 111.27,241.16 111.5,241.08 111.71,243.99 111.73,241.07 111.96,241.32 112.2,241.31 112.43,241.24 112.66,241 112.89,241.26 113.13,241.15 113.36,240.91 113.59,241.23 113.82,241.27 114.05,241.21 114.29,241.1 114.52,240.95 114.56,243.7 114.75,241.1 114.98,241.32 115.22,240.9 115.45,241.13 115.68,241.04 115.91,241.22 116.15,241.12 116.38,240.97 116.61,241.28 116.84,241.23 117.08,241.2 117.31,240.97 117.4,244.82 117.54,241 117.77,241.22 118.01,241.19 118.24,241.01 118.47,241.13 118.7,241.17 118.93,240.89 119.17,241.21 119.4,240.98 119.63,241.24 119.86,240.93 120.1,241.2 120.25,244.86 120.33,241.01 120.56,240.94 120.79,241.04 121.03,241.27 121.26,241.14 121.49,240.89 121.72,241.26 121.96,241.08 122.19,241.09 122.42,241.12 122.65,241.19 122.88,241.18 123.1,243.94 123.12,241.2 123.35,241.29 123.58,240.99 123.81,240.92 124.05,241.21 124.28,241.28 124.51,241.14 124.74,241.26 124.98,241.12 125.21,241.2 125.44,241.06 125.67,240.98 125.91,240.93 125.94,245.41 126.14,240.95 126.37,240.87 126.6,241.13 126.83,241.23 127.07,241.23 127.3,241.1 127.53,241.02 127.76,241.01 128,241.35 128.23,241.25 128.46,241.5 128.69,241.34 128.79,250.81 128.93,241.49 129.16,241.4 129.39,241.48 129.62,241.52 129.86,241.78 130.09,241.69 130.32,241.94 130.55,241.84 130.79,242.05 131.02,241.71 131.25,242.03 131.48,242.18 131.64,251.21 131.71,242.23 131.95,242.32 132.18,242.3 132.41,242.58 132.64,242.76 132.88,242.74 133.11,243.06 133.34,243.26 133.57,243.14 133.81,243.37 134.04,243.28 134.27,243.6 134.48,251.31 134.5,243.95 134.74,244.09 134.97,244.08 135.2,244 135.43,244.37 135.66,244.53 135.9,244.85 136.13,245.07 136.36,245.29 136.59,245.53 136.83,245.85 137.06,245.79 137.29,246.17 137.33,251.15 137.52,246.26 137.76,246.66 137.99,246.82 138.22,247.08 138.45,247.05 138.69,247.48 138.92,247.57 139.15,247.87 139.38,248.2 139.61,248.28 139.85,248.74 140.08,249.13 140.18,252.82 140.31,249.44 140.54,249.79 140.78,249.88 141.01,250.15 141.24,250.52 141.47,250.77 141.71,251.05 141.94,251.43 142.17,251.9 142.4,252.01 142.64,252.58 142.87,252.68 143.02,256.43 143.1,252.92 143.33,253.28 143.57,253.77 143.8,254 144.03,254.29 144.26,254.73 144.49,255.18 144.73,255.59 144.96,255.61 145.19,256.29 145.42,256.59 145.66,256.68 145.89,257.32 146.12,257.47 146.35,257.56 146.59,257.85 146.82,258.09 147.05,257.96 147.28,258.41" fill="none" stroke="#000" stroke-width="1.8" stroke-linejoin="round"/>
<path d="M147.59,258.53 147.71,264.25 148.09,255.38 148.52,263.03 149.06,257.63 149.43,263.53 149.93,257.42 150.19,262.69 150.71,248.8 151.16,261.06 151.51,249.31 151.87,260.38 152.36,248.22 152.76,264.16 153.01,284.78 153.17,261.76 153.23,265.31 153.69,256.42 154.24,259.81 154.68,257.51 155.16,260.47 155.77,247.3 156.25,264.5 156.7,257.09 157.11,260.12 157.56,248.3 158.31,259.61" fill="none" stroke="#000" stroke-width="1.2" stroke-linejoin="round"/>
<path d="M157.63,259.5 158.02,259.89 158.41,259.83 158.81,259.34 159.2,259.58 159.59,259.75 159.98,259.87 160.38,259.62 160.77,259.71 161.16,259.81 161.55,259.53 161.95,259.79 162.34,259.35 162.73,259.76 163.12,259.38 163.52,259.69 163.91,259.73 164.3,259.46 164.69,259.6 165.09,259.81 165.48,259.41 165.87,259.58 166.26,259.57 166.65,259.68 167.05,259.42 167.44,259.54 167.83,259.85 168.22,259.39 168.62,259.57 169.01,259.74 169.4,259.87 169.79,259.87 170.19,259.82 170.58,259.75 170.97,259.59 171.36,259.76 171.76,259.44 172.15,259.59 172.54,259.65 172.93,259.65 173.33,259.76 173.72,259.59 174.11,259.76 174.5,259.71 174.9,259.6 175.29,259.53 175.68,259.71 176.07,259.48 176.46,259.69 176.86,259.37 177.25,259.81 177.64,259.56 178.03,259.69 178.43,259.63 178.82,259.83 178.93,245.58 179.16,260.69 179.5,246.3 179.83,261.41 180.17,259.97 180.17,260.08 180.59,260.19 181,259.84 181.42,259.77 181.84,259.76 182.25,259.67 182.67,260.05 183.08,259.87 183.5,259.64 183.92,259.97 184.33,259.95 184.75,259.85 185.17,260.3 185.58,259.72" fill="none" stroke="#000" stroke-width="2" stroke-linejoin="round"/>
<path d="M159.66,260.42 159.85,260.05 160.05,260.72 160.24,260.33 160.44,260.25 160.63,260.03 160.83,260.22 161.02,260.19 161.22,259.87 161.41,260.57 161.61,260.38 161.8,259.92 162,260.37 162.19,260.23 162.39,260.32 162.58,259.81 162.78,260.13 162.97,260.03 163.17,260.83 163.36,260.44 163.56,260.06 163.75,260.68 163.95,260.02 164.14,259.87 164.34,260.04 164.53,260.09 164.73,260.57 164.92,260.74 165.12,259.85 165.31,260.41 165.51,259.89 165.7,260.15 165.9,259.86 166.09,260.84 166.29,260 166.48,260.07 166.68,260.26 166.87,260.69 167.07,260.65 167.26,264.75 167.45,260.45 167.65,260.05 167.84,259.81 168.04,264.81 168.23,260.79 168.43,260.83 168.62,260.4 168.82,259.98 169.01,260 169.21,260.23 169.4,260.86 169.6,260.6 169.79,260.71 169.99,260.7 170.18,260.72 170.38,260.83 170.57,260.32 170.77,260.5 170.96,260.49 171.16,260.57 171.35,260.01 171.55,260.55 171.74,260.7 171.94,260.56 172.13,260.6 172.33,260.49 172.52,260.46 172.72,260.62 172.91,260.19 173.11,260.7 173.3,259.88 173.5,259.91 173.69,260.33 173.89,260.08 174.08,260.63 174.28,260.55 174.47,259.89 174.67,260.35 174.86,260.07 175.06,259.99 175.25,260.11 175.45,260.38 175.64,260.46 175.84,260.8 176.03,259.93 176.23,260.12 176.42,260.8 176.62,259.97 176.81,260.56 177.01,259.95 177.2,260.7 177.4,260.84 177.59,259.94 177.79,259.91 177.98,260.33 178.18,259.88 178.37,260.77 178.56,260.7 178.76,259.82 178.95,259.85 179.15,260.12 179.34,260.5 179.54,260.1 179.73,260.87 179.93,260.48 180.12,259.95 180.32,260.62 180.51,260.73 180.71,260.34 180.9,260.14 181.1,265 181.29,259.98 181.49,259.89 181.68,260.63 181.88,260.45 182.07,259.96 182.27,260.32 182.46,260.06 182.66,260.53 182.85,265.63 183.05,259.96 183.24,260.03 183.44,259.92 183.63,260.44 183.83,260.31 184.02,260 184.22,264.63 184.41,260.29 184.61,260.83 184.8,260.63 185,260.38 185.19,260.05 185.39,259.89 185.58,259.8" fill="none" stroke="#000" stroke-width="0.9" stroke-linejoin="round"/>
<path d="M185.58,260.62 185.99,254.19 186.65,262.34 187.4,250.8 187.82,264.98 188.55,258.08 189.17,261.59 189.73,251.65 190.41,260.4 191.06,251.59 191.54,260.99 192.11,251.78 192.66,263.44 193.32,250.63 193.47,264.76 193.81,259.15 194.22,264.3 194.54,253.19 194.87,260.41 195.2,259.18 195.62,265.85 196,252.23 196.35,260.64 196.69,284.42 196.85,259.97 196.85,263.79 197.08,251.96 197.31,266.05 197.54,253.13 197.82,261.8 198.15,253.56 198.48,263.39 198.75,252.26 199.1,262.54 199.48,258.16 199.78,265.96 200.11,252.02 200.38,262.05 200.64,251.76 200.94,262.62 201.18,252.54 201.51,265.21 201.84,252.78 202.2,265.56 202.47,253.09 202.74,266.07 203.09,251.76 203.4,265.65 203.74,255.01 203.98,265.9 204.36,257.76 204.61,264.17 204.86,254.8 205.09,262 205.44,251.81 205.76,261.9 205.99,253.02 206.34,266.05 206.55,251.87 206.85,264.52 207.15,253.78 207.36,265.83 207.63,254.47 207.99,264.4 208.33,251.71 208.69,264.87 208.94,258.76 209.19,260.8 209.54,257.08 209.81,264.26 210.08,253.28 210.44,265.23 210.68,253.52 210.92,265.98 211.14,254.19 211.43,262.36 211.81,252.74 212.1,265.99 212.38,253.05 212.59,260.23 212.82,253.27 213.15,260.15 213.35,252.63 213.6,263.91 213.89,251.71 214.1,264.96 214.4,253.76 214.77,265.68 215.1,253.75 215.41,265.73 215.65,254.68 215.98,264.97 216.19,254.66 216.46,262.14 216.7,252.54 216.96,265.48 217.21,252.83 217.49,265.01 217.82,285.14 217.97,259.97 218.04,265.89 218.27,254.15 218.46,264.54 218.76,254.22 219.1,265.7 219.43,252.05 219.75,265.94 220.06,255.74 220.32,262.43 220.56,252.19 220.78,262.69 221.03,252.53 221.3,265.85 221.42,285.14 221.58,259.97 221.65,264.97 221.86,254.51 222.15,264.38 222.35,254.66 222.62,265.71 222.91,252.85 223.23,264.09 223.54,255.26 223.85,265.56 224.14,253.8 224.41,263.26 224.76,252.79 225.03,279.75 225.19,259.97 225.26,262.46 225.55,257.01 225.75,264.76 226.06,254.57 226.37,263.45 226.64,254.54 226.93,265.65 227.12,254.16 227.43,262.93 227.66,256.53 227.88,266.36 228.15,254.38 228.39,263.64 228.6,255.56 228.83,264.66 229.08,253.93 229.34,264.56 229.57,255.01 229.89,269.68" fill="none" stroke="#000" stroke-width="1.2" stroke-linejoin="round"/>
<path d="M185.58,258.66 185.74,261.55 185.89,261.11 186.05,259.63 186.2,259.45 186.36,259.7 186.52,258.69 186.67,257.89 186.83,261.34 186.98,259.1 187.14,260.44 187.29,260.04 187.45,257.81 187.6,261.32 187.76,260.77 187.92,259.59 188.07,258.63 188.23,257.82 188.38,257.74 188.54,257.91 188.69,258.51 188.85,259.8 189,260.46 189.16,258.17 189.32,258.63 189.47,258.78 189.63,258.53 189.78,257.96 189.94,259.42 190.09,260.57 190.25,261.54 190.4,260.64 190.56,258.99 190.72,260.13 190.87,260.81 191.03,261.06 191.18,261.45 191.34,259.33 191.49,258.98 191.65,257.81 191.8,258.49 191.96,260.97 192.12,260.77 192.27,257.76 192.43,260.44 192.58,259.45 192.74,258.4 192.89,259.05 193.05,261.43 193.2,259.72 193.36,259.48 193.52,259.46 193.67,261.14 193.83,257.77 193.98,259.61 194.14,258.93 194.29,258.55 194.45,260.59 194.6,261.48 194.76,259.15 194.92,257.98 195.07,258.07 195.23,258.11 195.38,260.78 195.54,258.09 195.69,261.28 195.85,260.46 196.01,258.32 196.16,261.22 196.32,258.5 196.47,258.44 196.63,258 196.78,258.2 196.94,258.75 197.09,260.92 197.25,261.12 197.41,261.27 197.56,260.35 197.72,260.35 197.87,257.66 198.03,258.21 198.18,261.21 198.34,259.72 198.49,258.42 198.65,260.03 198.81,259.52 198.96,258.12 199.12,257.96 199.27,260.91 199.43,258.34 199.58,259.81 199.74,261.5 199.89,260.39 200.05,258.07 200.21,260.86 200.36,260.93 200.52,257.8 200.67,259.87 200.83,257.97 200.98,260.47 201.14,261.34 201.29,257.96 201.45,260.32 201.61,257.87 201.76,258.92 201.92,258.28 202.07,260.32 202.23,258.77 202.38,258.36 202.54,258.9 202.69,257.93 202.85,258 203.01,259.34 203.16,257.86 203.32,258.76 203.47,257.98 203.63,261.02 203.78,260.4 203.94,260.99 204.09,261.49 204.25,258.99 204.41,257.74 204.56,259.1 204.72,257.73 204.87,258.33 205.03,259.14 205.18,260.01 205.34,260.8 205.49,257.8 205.65,257.86 205.81,258.03 205.96,260.26 206.12,258.62 206.27,259.47 206.43,258.33 206.58,259.34 206.74,261.54 206.9,260.49 207.05,260.52 207.21,260.29 207.36,260.22 207.52,261.51 207.67,259.56 207.83,257.86 207.98,259.14 208.14,260.74 208.3,257.74 208.45,258.12 208.61,258.09 208.76,261.12 208.92,258.8 209.07,260.28 209.23,258.43 209.38,260.1 209.54,260.61 209.7,257.75 209.85,258.2 210.01,259.02 210.16,259.68 210.32,259.35 210.47,258.98 210.63,259.89 210.78,259.97 210.94,260.53 211.1,259.11 211.25,260.45 211.41,259.93 211.56,260.45 211.72,257.97 211.87,259.53 212.03,260.99 212.18,261.11 212.34,258.53 212.5,257.88 212.65,260.69 212.81,259.33 212.96,259.66 213.12,259.85 213.27,258.82 213.43,258.4 213.58,258.34 213.74,260.71 213.9,259.2 214.05,260.97 214.21,260.85 214.36,260.22 214.52,259.32 214.67,259.64 214.83,261.4 214.98,259.64 215.14,260.91 215.3,260.91 215.45,258.17 215.61,259.02 215.76,260.61 215.92,258.53 216.07,257.7 216.23,258.21 216.39,261 216.54,258.97 216.7,259.96 216.85,259.84 217.01,260.86 217.16,261.09 217.32,257.73 217.47,259.78 217.63,260.93 217.79,259.75 217.94,259.78 218.1,260.97 218.25,258.66 218.41,259.11 218.56,258.73 218.72,258.26 218.87,258.11 219.03,257.63 219.19,258.8 219.34,257.7 219.5,257.68 219.65,260.82 219.81,260.04 219.96,259.68 220.12,259.73 220.27,261.2 220.43,260.03 220.59,258.46 220.74,259.57 220.9,258.95 221.05,258.84 221.21,259.11 221.36,261.53 221.52,260.07 221.67,258.63 221.83,260.14 221.99,257.75 222.14,257.79 222.3,259.56 222.45,257.7 222.61,260.76 222.76,259.68 222.92,257.92 223.07,261.23 223.23,259.56 223.39,259.94 223.54,260.05 223.7,259.87 223.85,259.2 224.01,257.93 224.16,261.38 224.32,261.01 224.47,258.87 224.63,259.45 224.79,258.73 224.94,258.24 225.1,258.34 225.25,260.32 225.41,260.73 225.56,259.13 225.72,261.37 225.87,259.23 226.03,259.13 226.19,259.67 226.34,258.21 226.5,261.32 226.65,261.51 226.81,257.9 226.96,258.25 227.12,261.44 227.28,258.74 227.43,259.26 227.59,261.02 227.74,259.95 227.9,259.22 228.05,259.18 228.21,260.79 228.36,261.54 228.52,261.33 228.68,260.63 228.83,260.35 228.99,260.77 229.14,260.23 229.3,261.18 229.45,260.03 229.61,260.26 229.76,260.4" fill="none" stroke="#000" stroke-width="1.3" stroke-linejoin="round"/>
<path d="M50,353.57 51.11,355.15 52.22,356.73 53.32,358.31 54.43,359.89 55.54,361.47 56.65,363.04 57.76,364.61 58.86,366.17 59.97,367.72 61.08,369.26 62.19,370.8 63.29,372.35 64.4,373.88 65.51,375.41 66.62,376.88 67.73,378.28 68.83,379.63 69.94,380.94 71.05,382.25 72.16,383.56 73.27,384.86 74.37,386.16 75.48,387.41 76.59,388.61 77.7,389.76 78.81,390.88 79.91,392 81.02,393.12 82.13,394.24 83.24,395.35 84.34,396.44 85.45,397.5 86.56,398.53 87.67,399.56 88.78,400.58 89.88,401.6 90.99,402.62 92.1,403.62 93.21,404.58 94.32,405.47 95.42,406.32 96.53,407.15 97.64,407.98 98.75,408.81 99.86,409.63 100.96,410.46 102.07,411.29 103.18,412.12 104.29,412.95 105.39,413.79 106.5,414.62 107.61,415.45 108.72,416.29 109.83,417.14 110.93,418.02 112.04,418.95 113.15,419.9 114.26,420.87 115.37,421.84 116.47,422.81 117.58,423.77 118.69,424.7 119.8,425.59 120.91,426.42 122.01,427.21 123.12,427.98 124.23,428.76 125.34,429.53 126.44,430.3 127.55,431.07 128.66,431.82 129.77,432.57 130.88,433.35 131.98,434.2 133.09,435.14 134.2,436.13 135.31,437.15 136.42,438.18 137.52,439.2" fill="none" stroke="#000" stroke-width="1.7" stroke-linejoin="round"/>
<path d="M327,331.1 425.33,272.38 434.3,269.96 444.05,267.41 453.81,264.32 463.56,261.49 473.32,259.34 483.07,257.6 492.83,256.39 508.43,255.04" fill="none" stroke="#000" stroke-width="1.7" stroke-linejoin="round"/>
<path d="M327,438.4 327,417.73 327.39,417.33 327.78,416.82 328.17,416.89 328.57,417.59 328.96,417.63 329.35,417.13 329.74,417.64 330.13,416.87 330.52,417.34 330.92,416.69 331.31,417.34 331.7,417.16 332.09,417.66 332.48,417.55 332.87,417.54 333.27,416.73 333.66,416.68 334.05,417.05 334.44,417.06 334.83,416.92 335.23,417.26 335.62,416.74 336.01,417.48 336.4,416.76 336.79,417.71 337.18,417.11 337.58,417.08 337.97,416.93 338.36,417.54 338.75,417.37 339.14,416.75 339.53,417.52 339.93,417.42 340.32,417.12 340.71,416.68 341.1,417.38 341.49,417.55 341.88,417.6 342.28,416.68 342.67,417.46 343.06,416.94 343.45,417.65 343.84,417.28 344.24,417.11 344.63,416.95 345.02,417.06 345.41,417.28 345.8,417.55 346.19,417.29 346.59,417.24 346.98,417.39 347.37,417.58 347.76,416.79 348.15,417.52 348.54,417.33 348.94,417.24 349.33,417.55 349.72,416.9 350.11,417.56 350.5,416.85 350.89,417.7 351.29,417.7 351.68,417.18 352.07,417.16 352.46,417.24 352.85,416.76 353.25,416.93 353.64,416.86 354.03,416.9 354.42,416.86 354.81,416.87 355.2,416.79 355.6,416.93 355.99,417.54 356.38,417.19 356.77,416.98 357.16,417.19 357.55,417.19 357.95,417.39 358.34,417.55 358.73,416.77 359.12,417.34 359.51,417.7 359.9,417.35 360.3,416.67 360.69,417.71 361.08,416.68 361.47,417.53 361.86,417.69 362.26,416.68 362.65,417.45 363.04,416.7 363.43,417.46 363.82,417.35 364.21,416.69 364.61,417.46 365,416.86 365.39,416.84 365.78,417.31 366.17,417.6 366.56,416.87 366.96,417.56 367.35,417.34 367.74,417.52 368.13,416.78 368.52,417.43 368.91,417.15 369.31,417.02 369.7,417.45 370.09,417.13 370.48,416.97 370.87,416.69 371.27,417.27 371.66,417.37 372.05,417.36 372.44,417.14 372.83,417.4 373.22,417.3 373.62,417.05 374.01,416.95 374.4,416.96 374.79,417.03 375.18,417.58 375.57,417.02 375.97,417.5 376.36,416.83 376.75,416.78 377.14,417.44 377.53,416.72 377.92,417.06 378.32,416.95 378.71,416.96 379.1,417.02 379.49,417.58 379.88,417.11 380.28,416.7 380.67,416.86 381.06,417.25 381.45,416.69 381.84,416.78 382.23,417.26 382.63,416.83 383.02,417.45 383.41,417.58 383.8,417.2 384.19,416.87 384.58,416.99 384.98,417.4 385.37,417.21 385.76,416.91 386.15,416.96 386.54,416.72 386.94,417.57 387.33,416.95 387.72,417.02 388.11,417.43 388.5,416.71 388.89,417.21 389.29,417.05 389.68,416.68 390.07,417.16 390.46,417.03 390.85,417.11 391.24,416.84 391.64,417.02 392.03,417.58 392.42,417.67 392.81,416.77 393.2,416.93 393.59,417.6 393.99,416.81 394.38,417.03 394.77,417.09 395.16,416.93 395.55,416.75 395.95,417.41 396.34,417.67 396.73,417.01 397.12,417.4 397.51,416.97 397.9,417.01 398.3,417.01 398.69,416.87 399.08,417.56 399.47,417.54 399.86,417.18 400.25,417.55 400.65,417.2 401.04,417.45 401.43,416.69 401.82,416.84 402.21,416.89 402.6,416.81 403,417.47 403.39,417.17 403.78,417.08 404.17,417.68 404.56,417.47 404.96,416.86 405.35,417.46 405.74,416.77 406.13,417.23 406.52,417.2 406.91,417.6 407.31,416.83 407.7,417.3 408.09,417.49 408.48,417.55 408.87,417.56 409.26,416.91 409.66,417.34 410.05,417.1 410.44,417.36 410.83,416.75 411.22,417.18 411.61,417.24 412.01,416.73 412.4,416.87 412.79,416.69 413.18,416.92 413.57,417.49 413.97,417.24 414.36,416.89 414.75,417.49 415.14,417.26 415.53,417.59 415.92,417.26 416.32,417.14 416.71,417.54 417.1,417.1 417.49,417.57 417.88,417.21 418.27,417 418.67,416.96 419.06,417.27 419.45,417.55 419.84,416.69 420.23,417.15 420.62,417.21 421.02,417.69 421.41,416.93 421.8,416.9 422.19,416.97 422.58,417.25 422.98,417.24 423.37,416.86 423.76,416.74 424.15,417.1 424.54,417.05 424.93,416.84 425.33,417.37" fill="none" stroke="#000" stroke-width="2.6" stroke-linejoin="round"/>
<path d="M427.26,437.5 427.58,385.5 428.03,437.5 428.44,385.5 428.8,437.5" fill="none" stroke="#000" stroke-width="1" stroke-linejoin="round"/>
<path d="M429.31,437.5 429.76,385.5 430.04,437.5 430.43,385.5" fill="none" stroke="#000" stroke-width="1" stroke-linejoin="round"/>
<path d="M431.8,437.5 432.35,385.5 432.84,437.5 433.21,385.5" fill="none" stroke="#000" stroke-width="1" stroke-linejoin="round"/>
<path d="M434.08,437.5 434.57,385.5 435.05,437.5 435.42,385.5" fill="none" stroke="#000" stroke-width="1" stroke-linejoin="round"/>
<path d="M435.89,422.5 436.34,385.5 436.77,422.5" fill="none" stroke="#000" stroke-width="1" stroke-linejoin="round"/>
<path d="M425.45,417.68 425.6,409.58 425.72,419.6 425.89,411.22 426.05,417.45 426.2,408.85 426.35,419.03 426.49,407.77 426.61,417.14 426.78,407.34 426.91,415.04 427.04,407.7 427.15,416.22 427.31,406.63 427.46,414.44 427.6,408.68 427.75,416.79 427.91,409.03 428.08,416.74 428.21,407.52 428.34,416.13 428.51,408.79 428.63,414.19 428.77,406.98 428.95,416.27 429.09,408.99 429.23,416.69 429.42,406.74 429.54,415.53 429.66,406.4 429.79,414.08 429.98,405.95 430.1,417.04 430.27,406.8 430.4,416.29 430.53,408.07 430.69,414.6 430.87,409.11 431.03,414.09 431.16,408.48 431.34,415.95 431.53,406.38 431.68,416.9 431.79,406 431.92,416.95 432.06,407.96 432.21,416.91 432.4,407.35 432.53,414.77 432.72,406 432.9,415.88 433.05,408.89 433.17,414.24 433.29,408.23 433.42,415.95 433.62,408.73 433.77,415.7 433.93,407.84 434.07,416.7 434.26,408.85 434.4,413.51 434.57,408.7 434.73,415.15 434.9,405.94 435.04,416.2 435.23,408.06 435.39,416.42 435.57,405.95 435.7,414.89 435.89,406.28 436.01,416.62 436.15,406.85 436.28,416.73 436.46,406.73 436.59,413.86 436.77,405.86 436.92,415.2 437.07,408.62 437.2,415.12 437.38,406.59 437.54,414.49 437.68,405.55 437.82,416.4 437.96,405.95 438.09,415.28 438.23,407.78 438.35,416.26 438.53,408.33 438.7,416.46 438.81,407.72 439,413.77 439.16,406.06 439.36,414.48 439.5,407.21 439.68,414.05 439.86,405.42 440.04,414.01 440.16,405.85 440.31,414.11 440.51,405.27 440.68,414.12 440.82,406.92 440.95,415.41 441.07,405.47 441.22,414.04 441.36,407.55 441.55,414.61 441.73,406.62 441.84,414.38 441.98,406.29 442.11,414.19 442.22,407.82 442.36,413.68 442.54,405.72 442.67,414.27 442.87,404.96 442.99,415.55 443.16,406.5 443.3,415.08 443.43,405.7 443.56,414.73 443.67,405.01 443.81,415.93 443.95,404.9 444.13,413.72 444.28,407.36 444.4,415.22 444.6,405.65 444.76,414.36 444.93,406.47 445.11,414.86 445.24,404.77 445.38,415.26 445.49,405.55 445.63,413.62 445.81,405.99 445.96,414.94 446.15,404.95 446.34,412.41 446.54,405.16 446.66,413.64 446.79,405.11 446.95,414.52 447.12,405.98 447.31,412.52 447.44,404.48 447.57,415.31 447.75,406.76 447.9,414.02 448.08,405.28 448.19,414.58 448.35,406.85 448.55,414.56 448.73,406.21 448.92,415.4 449.08,407.23 449.19,414.33 449.31,405.06 449.43,414.68 449.58,407.15 449.71,414.81 449.91,405.37 450.03,413.43 450.21,407.32 450.35,415.18 450.55,404.31 450.7,413.79 450.87,404.19 451.06,413.58 451.26,405.34 451.37,412.59 451.52,406.16 451.69,414.68 451.86,405.12 452.02,413.51 452.22,406.2 452.4,414.63 452.56,403.87 452.73,414.2 452.91,403.44 453.1,411.83 453.26,403.26 453.38,411.84 453.52,404.23 453.71,413.64 453.86,402.97 454.05,410.85 454.2,402.38 454.36,411.02 454.47,399.44 454.6,409.28 454.79,397.55 454.98,403.67 455.16,398.04 455.31,405.71 455.48,394.73 455.67,404.17 455.81,394.36 456,403.73 456.11,393.46 456.31,402.55 456.44,392.35 456.55,401.91 456.74,395.11 456.85,401.25 457.03,392.19 457.17,399.96 457.35,393.35 457.47,402.25 457.64,393.21 457.76,402.27 457.95,393.1 458.08,401.53 458.21,394.66 458.38,402.52 458.54,391.69 458.73,402.33 458.91,394.07 459.05,400.74 459.16,393.67 459.34,402.44 459.46,396.02 459.65,406.59 459.77,398.58 459.93,410.11 460.07,399.97 460.22,409.54 460.38,401.1 460.58,411.76 460.78,403.8 460.91,410.45 461.04,403.13 461.2,413.62 461.37,403.09 461.49,413.17 461.66,403.92 461.79,413.67 461.9,403.24 462.09,411.2 462.25,403.13 462.42,410.9 462.59,402.21 462.77,411.1 462.93,404.33 463.09,411.67 463.23,401.97 463.41,409.47 463.53,404.49 463.69,410.58 463.85,401.56 463.96,410.57 464.16,401.6 464.27,409.89 464.47,401.41 464.6,410.12 464.76,402.91 464.92,409.96 465.1,402.49 465.22,410.38 465.4,403.1 465.56,408.62 465.74,400.56 465.87,409.59 466.03,400.11 466.23,408.94 466.34,400.94 466.45,410.49 466.62,401.12 466.76,409.12 466.95,399.43 467.1,409.66 467.21,400.45 467.35,408.99 467.47,401.29 467.63,408.47 467.76,400.39 467.9,409.11 468.05,398.58 468.18,408.56 468.37,398.23 468.55,408.72 468.68,400.89 468.84,408.82 469,398.13 469.13,406.79 469.25,400.8" fill="none" stroke="#000" stroke-width="1.2" stroke-linejoin="round"/>
<path d="M425.45,412.83 425.65,405.82 426.02,411.7 426.33,399.99 426.59,416.57 426.94,401.36 427.26,418.23 427.61,407.75 427.95,421.29 428.29,404.59 428.51,412.02 428.88,398.84 429.23,422.08 429.57,398.86 429.81,412.88 430.1,406.11 430.47,413.58 430.85,407.73 431.16,415.93 431.42,400.95 431.68,422.23 431.92,403.1 432.2,420.36 432.46,406.37 432.79,410.95 433.17,400.57 433.51,410.72 433.81,399.19 434.13,419.81 434.41,406.91 434.75,420.04 435.07,405.28 435.4,421.04 435.66,402.13 435.98,412.66 436.29,409.9 436.63,420.12" fill="none" stroke="#000" stroke-width="1" stroke-linejoin="round"/>
<path d="M457.7,437.5 458.06,385.5 458.44,437.5 458.79,385.5 459.15,437.5" fill="none" stroke="#000" stroke-width="1" stroke-linejoin="round"/>
<path d="M455.88,406.6 456.29,385.5 456.61,406.6 456.85,385.5 457.18,406.6 457.49,385.5 457.77,406.6" fill="none" stroke="#000" stroke-width="1" stroke-linejoin="round"/>
<path d="M464.74,437.5 465.06,385.5 465.46,437.5 465.82,385.5" fill="none" stroke="#000" stroke-width="1" stroke-linejoin="round"/>
<path d="M467.01,437.5 467.36,385.5 467.64,437.5 467.96,385.5 468.41,437.5 468.73,385.5" fill="none" stroke="#000" stroke-width="1" stroke-linejoin="round"/>
<path d="M469.28,437.5 469.53,385.5 469.94,437.5 470.24,385.5 470.53,437.5 470.94,385.5 471.32,437.5 471.67,385.5 472.08,437.5 472.47,385.5 472.71,437.5 473.12,385.5" fill="none" stroke="#000" stroke-width="1" stroke-linejoin="round"/>
<path d="M473.14,437.5 473.38,385.5 473.57,437.5 473.76,385.5 473.96,437.5 474.12,385.5 474.37,437.5 474.56,385.5 474.79,437.5 474.96,385.5 475.12,437.5 475.28,385.5 475.49,437.5 475.69,385.5 475.94,437.5 476.14,385.5 476.36,437.5 476.58,385.5 476.75,437.5 476.95,385.5 477.21,437.5 477.48,385.5 477.7,437.5 477.89,385.5 478.15,437.5 478.37,385.5 478.52,437.5 478.69,385.5 478.93,437.5 479.09,385.5 479.31,437.5 479.59,385.5 479.8,437.5 480.01,385.5 480.26,437.5 480.48,385.5 480.74,437.5 480.89,385.5 481.15,437.5 481.32,385.5 481.5,437.5 481.72,385.5 481.96,437.5 482.13,385.5 482.39,437.5 482.6,385.5 482.84,437.5 483.04,385.5 483.24,437.5 483.46,385.5 483.69,437.5 483.94,385.5 484.13,437.5 484.36,385.5 484.55,437.5 484.79,385.5 484.99,437.5 485.26,385.5 485.5,437.5 485.66,385.5 485.9,437.5 486.1,385.5 486.29,437.5 486.47,385.5 486.71,437.5 486.97,385.5 487.17,437.5 487.39,385.5 487.58,437.5 487.84,385.5 488.11,437.5 488.32,385.5 488.53,437.5 488.7,385.5 488.89,437.5 489.09,385.5 489.3,437.5 489.47,385.5 489.66,437.5 489.82,385.5 490.01,437.5 490.24,385.5 490.51,437.5 490.69,385.5 490.93,437.5 491.11,385.5 491.38,437.5 491.56,385.5 491.72,437.5 491.99,385.5 492.19,437.5 492.36,385.5 492.57,437.5 492.83,385.5 493.03,437.5 493.24,385.5 493.48,437.5 493.63,385.5 493.9,437.5 494.14,385.5 494.36,437.5 494.56,385.5 494.84,437.5 495,385.5 495.15,437.5 495.37,385.5 495.61,437.5 495.78,385.5 496.04,437.5 496.25,385.5 496.44,437.5 496.68,385.5 496.88,437.5 497.05,385.5 497.26,437.5 497.42,385.5 497.61,437.5 497.83,385.5 497.99,437.5 498.2,385.5 498.41,437.5 498.57,385.5 498.74,437.5 498.9,385.5 499.12,437.5 499.35,385.5 499.5,437.5 499.72,385.5 499.98,437.5 500.14,385.5 500.37,437.5 500.56,385.5 500.73,437.5 500.99,385.5 501.18,437.5 501.44,385.5 501.7,437.5 501.89,385.5 502.15,437.5 502.42,385.5 502.57,437.5 502.83,385.5 503.06,437.5 503.21,385.5 503.43,437.5 503.69,385.5 503.95,437.5 504.22,385.5 504.43,437.5 504.6,385.5 504.79,437.5 504.98,385.5 505.21,437.5 505.4,385.5 505.62,437.5 505.81,385.5 506.02,437.5 506.25,385.5 506.51,437.5 506.66,385.5 506.87,437.5 507.06,385.5 507.29,437.5 507.54,385.5 507.78,437.5 507.95,385.5 508.12,437.5 508.38,385.5 508.57,437.5 508.81,385.5 508.96,437.5" fill="none" stroke="#000" stroke-width="1" stroke-linejoin="round"/>
<rect x="470.87" y="416.14" width="0.8" height="22.36" fill="#fff"/>
<rect x="474.5" y="416.14" width="0.8" height="22.36" fill="#fff"/>
<rect x="484.49" y="416.14" width="0.8" height="22.36" fill="#fff"/>
<rect x="488.13" y="416.14" width="0.8" height="22.36" fill="#fff"/>
<path d="M428.4,383.1 V346.85 M432.26,383.1 V360.85 M458.6,383.1 V359.04 M465.42,383.1 V359.72 M468.6,383.1 V357.46 M470.87,383.1 V377.78 M472.23,383.1 V376.65 M473.82,383.1 V349.56 M475.41,383.1 V331.95 M477.23,383.1 V341.66 M479.04,383.1 V375.52 M486.31,383.1 V369.87 M487.9,383.1 V372.58 M489.72,383.1 V368.75 M491.31,383.1 V365.36 M496.53,383.1 V352.94 M498.8,383.1 V355.2 M500.39,383.1 V376.65 M502.21,383.1 V376.65 M504.03,383.1 V368.75 M505.62,383.1 V365.36 M507.89,383.1 V343.92 M472.91,383.1 V378.9 M476.32,383.1 V376.65 M478.14,383.1 V377.78 M497.67,383.1 V375.52 M499.48,383.1 V377.78 M501.3,383.1 V378.45 M503.12,383.1 V376.65 M504.71,383.1 V374.39 M506.75,383.1 V372.13 M486.99,383.1 V376.65 M488.81,383.1 V375.52 M490.63,383.1 V374.39" fill="none" stroke="#000" stroke-width="1.45"/>
<path d="M50,7.22 V439.97 M263,7.22 V439.97 M50,8 H263 M50,115.6 H263 M50,224 H263 M50,331.9 H263 M50,439.2 H263 M59.68,8 v2 M69.36,8 v3.7 M79.05,8 v2 M88.73,8 v3.7 M98.41,8 v2 M108.09,8 v3.7 M117.77,8 v2 M127.45,8 v3.7 M137.14,8 v2 M146.82,8 v3.7 M156.5,8 v2 M166.18,8 v3.7 M175.86,8 v2 M185.55,8 v3.7 M195.23,8 v2 M204.91,8 v3.7 M214.59,8 v2 M224.27,8 v3.7 M233.95,8 v2 M243.64,8 v3.7 M253.32,8 v2 M59.68,115.6 v-2 M69.36,115.6 v-3.7 M79.05,115.6 v-2 M88.73,115.6 v-3.7 M98.41,115.6 v-2 M108.09,115.6 v-3.7 M117.77,115.6 v-2 M127.45,115.6 v-3.7 M137.14,115.6 v-2 M146.82,115.6 v-3.7 M156.5,115.6 v-2 M166.18,115.6 v-3.7 M175.86,115.6 v-2 M185.55,115.6 v-3.7 M195.23,115.6 v-2 M204.91,115.6 v-3.7 M214.59,115.6 v-2 M224.27,115.6 v-3.7 M233.95,115.6 v-2 M243.64,115.6 v-3.7 M253.32,115.6 v-2 M59.68,224 v-2 M69.36,224 v-3.7 M79.05,224 v-2 M88.73,224 v-3.7 M98.41,224 v-2 M108.09,224 v-3.7 M117.77,224 v-2 M127.45,224 v-3.7 M137.14,224 v-2 M146.82,224 v-3.7 M156.5,224 v-2 M166.18,224 v-3.7 M175.86,224 v-2 M185.55,224 v-3.7 M195.23,224 v-2 M204.91,224 v-3.7 M214.59,224 v-2 M224.27,224 v-3.7 M233.95,224 v-2 M243.64,224 v-3.7 M253.32,224 v-2 M59.68,331.9 v-2 M69.36,331.9 v-3.7 M79.05,331.9 v-2 M88.73,331.9 v-3.7 M98.41,331.9 v-2 M108.09,331.9 v-3.7 M117.77,331.9 v-2 M127.45,331.9 v-3.7 M137.14,331.9 v-2 M146.82,331.9 v-3.7 M156.5,331.9 v-2 M166.18,331.9 v-3.7 M175.86,331.9 v-2 M185.55,331.9 v-3.7 M195.23,331.9 v-2 M204.91,331.9 v-3.7 M214.59,331.9 v-2 M224.27,331.9 v-3.7 M233.95,331.9 v-2 M243.64,331.9 v-3.7 M253.32,331.9 v-2 M59.68,439.2 v-2 M69.36,439.2 v-3.7 M79.05,439.2 v-2 M88.73,439.2 v-3.7 M98.41,439.2 v-2 M108.09,439.2 v-3.7 M117.77,439.2 v-2 M127.45,439.2 v-3.7 M137.14,439.2 v-2 M146.82,439.2 v-3.7 M156.5,439.2 v-2 M166.18,439.2 v-3.7 M175.86,439.2 v-2 M185.55,439.2 v-3.7 M195.23,439.2 v-2 M204.91,439.2 v-3.7 M214.59,439.2 v-2 M224.27,439.2 v-3.7 M233.95,439.2 v-2 M243.64,439.2 v-3.7 M253.32,439.2 v-2" fill="none" stroke="#000" stroke-width="1.55"/>
<path d="M327,6.52 V439.17 M541.6,6.52 V439.17 M327,7.3 H541.6 M327,115.1 H541.6 M327,223.6 H541.6 M327,331.1 H541.6 M327,438.4 H541.6 M336.75,7.3 v2 M346.51,7.3 v3.7 M356.26,7.3 v2 M366.02,7.3 v3.7 M375.77,7.3 v2 M385.53,7.3 v3.7 M395.28,7.3 v2 M405.04,7.3 v3.7 M414.79,7.3 v2 M424.55,7.3 v3.7 M434.3,7.3 v2 M444.05,7.3 v3.7 M453.81,7.3 v2 M463.56,7.3 v3.7 M473.32,7.3 v2 M483.07,7.3 v3.7 M492.83,7.3 v2 M502.58,7.3 v3.7 M512.34,7.3 v2 M522.09,7.3 v3.7 M531.85,7.3 v2 M336.75,115.1 v-2 M346.51,115.1 v-3.7 M356.26,115.1 v-2 M366.02,115.1 v-3.7 M375.77,115.1 v-2 M385.53,115.1 v-3.7 M395.28,115.1 v-2 M405.04,115.1 v-3.7 M414.79,115.1 v-2 M424.55,115.1 v-3.7 M434.3,115.1 v-2 M444.05,115.1 v-3.7 M453.81,115.1 v-2 M463.56,115.1 v-3.7 M473.32,115.1 v-2 M483.07,115.1 v-3.7 M492.83,115.1 v-2 M502.58,115.1 v-3.7 M512.34,115.1 v-2 M522.09,115.1 v-3.7 M531.85,115.1 v-2 M336.75,223.6 v-2 M346.51,223.6 v-3.7 M356.26,223.6 v-2 M366.02,223.6 v-3.7 M375.77,223.6 v-2 M385.53,223.6 v-3.7 M395.28,223.6 v-2 M405.04,223.6 v-3.7 M414.79,223.6 v-2 M424.55,223.6 v-3.7 M434.3,223.6 v-2 M444.05,223.6 v-3.7 M453.81,223.6 v-2 M463.56,223.6 v-3.7 M473.32,223.6 v-2 M483.07,223.6 v-3.7 M492.83,223.6 v-2 M502.58,223.6 v-3.7 M512.34,223.6 v-2 M522.09,223.6 v-3.7 M531.85,223.6 v-2 M336.75,331.1 v-2 M346.51,331.1 v-3.7 M356.26,331.1 v-2 M366.02,331.1 v-3.7 M375.77,331.1 v-2 M385.53,331.1 v-3.7 M395.28,331.1 v-2 M405.04,331.1 v-3.7 M414.79,331.1 v-2 M424.55,331.1 v-3.7 M434.3,331.1 v-2 M444.05,331.1 v-3.7 M453.81,331.1 v-2 M463.56,331.1 v-3.7 M473.32,331.1 v-2 M483.07,331.1 v-3.7 M492.83,331.1 v-2 M502.58,331.1 v-3.7 M512.34,331.1 v-2 M522.09,331.1 v-3.7 M531.85,331.1 v-2 M336.75,438.4 v-2 M346.51,438.4 v-3.7 M356.26,438.4 v-2 M366.02,438.4 v-3.7 M375.77,438.4 v-2 M385.53,438.4 v-3.7 M395.28,438.4 v-2 M405.04,438.4 v-3.7 M414.79,438.4 v-2 M424.55,438.4 v-3.7 M434.3,438.4 v-2 M444.05,438.4 v-3.7 M453.81,438.4 v-2 M463.56,438.4 v-3.7 M473.32,438.4 v-2 M483.07,438.4 v-3.7 M492.83,438.4 v-2 M502.58,438.4 v-3.7 M512.34,438.4 v-2 M522.09,438.4 v-3.7 M531.85,438.4 v-2" fill="none" stroke="#000" stroke-width="1.55"/>
<text x="45.5" y="119.5" text-anchor="end" font-size="12.6">0</text>
<text x="45.5" y="92.6" text-anchor="end" font-size="12.6">100</text>
<text x="45.5" y="65.7" text-anchor="end" font-size="12.6">200</text>
<text x="45.5" y="38.8" text-anchor="end" font-size="12.6">300</text>
<text x="45.5" y="11.9" text-anchor="end" font-size="12.6">400</text>
<path d="M50,102.15 h2 M263,102.15 h-2 M50,88.7 h3.7 M263,88.7 h-3.7 M50,75.25 h2 M263,75.25 h-2 M50,61.8 h3.7 M263,61.8 h-3.7 M50,48.35 h2 M263,48.35 h-2 M50,34.9 h3.7 M263,34.9 h-3.7 M50,21.45 h2 M263,21.45 h-2" fill="none" stroke="#000" stroke-width="1.55"/>
<text x="45.5" y="215.86" text-anchor="end" font-size="12.6">-20</text>
<text x="45.5" y="191.77" text-anchor="end" font-size="12.6">-10</text>
<text x="45.5" y="167.68" text-anchor="end" font-size="12.6">0</text>
<text x="45.5" y="143.59" text-anchor="end" font-size="12.6">10</text>
<path d="M50,211.96 h3.7 M263,211.96 h-3.7 M50,199.91 h2 M263,199.91 h-2 M50,187.87 h3.7 M263,187.87 h-3.7 M50,175.82 h2 M263,175.82 h-2 M50,163.78 h3.7 M263,163.78 h-3.7 M50,151.73 h2 M263,151.73 h-2 M50,139.69 h3.7 M263,139.69 h-3.7 M50,127.64 h2 M263,127.64 h-2" fill="none" stroke="#000" stroke-width="1.55"/>
<text x="45.5" y="335.8" text-anchor="end" font-size="12.6">0</text>
<text x="45.5" y="317.82" text-anchor="end" font-size="12.6">5</text>
<text x="45.5" y="299.83" text-anchor="end" font-size="12.6">10</text>
<text x="45.5" y="281.85" text-anchor="end" font-size="12.6">15</text>
<text x="45.5" y="263.87" text-anchor="end" font-size="12.6">20</text>
<text x="45.5" y="245.88" text-anchor="end" font-size="12.6">25</text>
<path d="M50,322.91 h2 M263,322.91 h-2 M50,313.92 h3.7 M263,313.92 h-3.7 M50,304.93 h2 M263,304.93 h-2 M50,295.93 h3.7 M263,295.93 h-3.7 M50,286.94 h2 M263,286.94 h-2 M50,277.95 h3.7 M263,277.95 h-3.7 M50,268.96 h2 M263,268.96 h-2 M50,259.97 h3.7 M263,259.97 h-3.7 M50,250.97 h2 M263,250.97 h-2 M50,241.98 h3.7 M263,241.98 h-3.7 M50,232.99 h2 M263,232.99 h-2" fill="none" stroke="#000" stroke-width="1.55"/>
<text x="45.5" y="443.1" text-anchor="end" font-size="12.6">0</text>
<text x="45.5" y="421.64" text-anchor="end" font-size="12.6">10</text>
<text x="45.5" y="400.18" text-anchor="end" font-size="12.6">20</text>
<text x="45.5" y="378.72" text-anchor="end" font-size="12.6">30</text>
<text x="45.5" y="357.26" text-anchor="end" font-size="12.6">40</text>
<path d="M50,428.47 h2 M263,428.47 h-2 M50,417.74 h3.7 M263,417.74 h-3.7 M50,407.01 h2 M263,407.01 h-2 M50,396.28 h3.7 M263,396.28 h-3.7 M50,385.55 h2 M263,385.55 h-2 M50,374.82 h3.7 M263,374.82 h-3.7 M50,364.09 h2 M263,364.09 h-2 M50,353.36 h3.7 M263,353.36 h-3.7 M50,342.63 h2 M263,342.63 h-2" fill="none" stroke="#000" stroke-width="1.55"/>
<text x="322.5" y="118.6" text-anchor="end" font-size="12.6">0</text>
<text x="322.5" y="91.65" text-anchor="end" font-size="12.6">4</text>
<text x="322.5" y="64.7" text-anchor="end" font-size="12.6">8</text>
<text x="322.5" y="37.75" text-anchor="end" font-size="12.6">12</text>
<text x="322.5" y="10.8" text-anchor="end" font-size="12.6">16</text>
<path d="M327,101.62 h2 M541.6,101.62 h-2 M327,88.15 h3.7 M541.6,88.15 h-3.7 M327,74.67 h2 M541.6,74.67 h-2 M327,61.2 h3.7 M541.6,61.2 h-3.7 M327,47.72 h2 M541.6,47.72 h-2 M327,34.25 h3.7 M541.6,34.25 h-3.7 M327,20.77 h2 M541.6,20.77 h-2" fill="none" stroke="#000" stroke-width="1.55"/>
<text x="322.5" y="227.1" text-anchor="end" font-size="12.6">0</text>
<text x="322.5" y="190.93" text-anchor="end" font-size="12.6">4</text>
<text x="322.5" y="154.77" text-anchor="end" font-size="12.6">8</text>
<path d="M327,205.52 h2 M541.6,205.52 h-2 M327,187.43 h3.7 M541.6,187.43 h-3.7 M327,169.35 h2 M541.6,169.35 h-2 M327,151.27 h3.7 M541.6,151.27 h-3.7 M327,133.18 h2 M541.6,133.18 h-2" fill="none" stroke="#000" stroke-width="1.55"/>
<text x="322.5" y="334.6" text-anchor="end" font-size="12.6">0</text>
<text x="322.5" y="307.73" text-anchor="end" font-size="12.6">200</text>
<text x="322.5" y="280.85" text-anchor="end" font-size="12.6">400</text>
<text x="322.5" y="253.98" text-anchor="end" font-size="12.6">600</text>
<path d="M327,317.66 h2 M541.6,317.66 h-2 M327,304.23 h3.7 M541.6,304.23 h-3.7 M327,290.79 h2 M541.6,290.79 h-2 M327,277.35 h3.7 M541.6,277.35 h-3.7 M327,263.91 h2 M541.6,263.91 h-2 M327,250.48 h3.7 M541.6,250.48 h-3.7 M327,237.04 h2 M541.6,237.04 h-2" fill="none" stroke="#000" stroke-width="1.55"/>
<text x="322.5" y="441.9" text-anchor="end" font-size="12.6">0</text>
<text x="322.5" y="431.3" text-anchor="end" font-size="12.6">2</text>
<text x="322.5" y="420.7" text-anchor="end" font-size="12.6">4</text>
<text x="322.5" y="410.1" text-anchor="end" font-size="12.6">6</text>
<text x="322.5" y="399.5" text-anchor="end" font-size="12.6">8</text>
<path d="M327,433.1 h2 M541.6,433.1 h-2 M327,427.8 h3.7 M541.6,427.8 h-3.7 M327,422.5 h2 M541.6,422.5 h-2 M327,417.2 h3.7 M541.6,417.2 h-3.7 M327,411.9 h2 M541.6,411.9 h-2 M327,406.6 h3.7 M541.6,406.6 h-3.7 M327,401.3 h2 M541.6,401.3 h-2 M327,396 h3.7 M541.6,396 h-3.7 M327,390.7 h2 M541.6,390.7 h-2" fill="none" stroke="#000" stroke-width="1.55"/>
<text x="322.5" y="382.6" text-anchor="end" font-size="12.6">40</text>
<text x="322.5" y="366.6" text-anchor="end" font-size="12.6">80</text>
<text x="322.5" y="350.6" text-anchor="end" font-size="12.6">120</text>
<path d="M327,379.1 h3.7 M541.6,379.1 h-3.7 M327,371.1 h2 M541.6,371.1 h-2 M327,363.1 h3.7 M541.6,363.1 h-3.7 M327,355.1 h2 M541.6,355.1 h-2 M327,347.1 h3.7 M541.6,347.1 h-3.7 M327,339.1 h2 M541.6,339.1 h-2" fill="none" stroke="#000" stroke-width="1.55"/>
<text x="50" y="454" text-anchor="middle" font-size="13">7</text>
<text x="69.36" y="454" text-anchor="middle" font-size="13">8</text>
<text x="88.73" y="454" text-anchor="middle" font-size="13">9</text>
<text x="108.09" y="454" text-anchor="middle" font-size="13">10</text>
<text x="127.45" y="454" text-anchor="middle" font-size="13">11</text>
<text x="146.82" y="454" text-anchor="middle" font-size="13">12</text>
<text x="166.18" y="454" text-anchor="middle" font-size="13">13</text>
<text x="185.55" y="454" text-anchor="middle" font-size="13">14</text>
<text x="204.91" y="454" text-anchor="middle" font-size="13">15</text>
<text x="224.27" y="454" text-anchor="middle" font-size="13">16</text>
<text x="243.64" y="454" text-anchor="middle" font-size="13">17</text>
<text x="263" y="454" text-anchor="middle" font-size="13">18</text>
<text x="156.6" y="473.2" text-anchor="middle">Time (h)</text>
<text x="327" y="452.9" text-anchor="middle" font-size="13">7</text>
<text x="346.51" y="452.9" text-anchor="middle" font-size="13">8</text>
<text x="366.02" y="452.9" text-anchor="middle" font-size="13">9</text>
<text x="385.53" y="452.9" text-anchor="middle" font-size="13">10</text>
<text x="405.04" y="452.9" text-anchor="middle" font-size="13">11</text>
<text x="424.55" y="452.9" text-anchor="middle" font-size="13">12</text>
<text x="444.05" y="452.9" text-anchor="middle" font-size="13">13</text>
<text x="463.56" y="452.9" text-anchor="middle" font-size="13">14</text>
<text x="483.07" y="452.9" text-anchor="middle" font-size="13">15</text>
<text x="502.58" y="452.9" text-anchor="middle" font-size="13">16</text>
<text x="522.09" y="452.9" text-anchor="middle" font-size="13">17</text>
<text x="541.6" y="452.9" text-anchor="middle" font-size="13">18</text>
<text x="434.6" y="473.3" text-anchor="middle">Time (h)</text>
<text x="251.8" y="111.4" text-anchor="middle" font-size="13.8">A</text>
<text x="251.8" y="217.8" text-anchor="middle" font-size="13.8">B</text>
<text x="251.8" y="325.7" text-anchor="middle" font-size="13.8">C</text>
<text x="251.8" y="435" text-anchor="middle" font-size="13.8">D</text>
<text x="532" y="108" text-anchor="middle" font-size="13.1">E</text>
<text x="532.1" y="218.9" text-anchor="middle" font-size="13.1">F</text>
<text x="531" y="326.3" text-anchor="middle" font-size="13.1">G</text>
<text x="531.8" y="432.9" text-anchor="middle" font-size="13.1">H</text>
<text transform="translate(14.2,60) rotate(-90)" text-anchor="middle" font-size="13">Motor power (W)</text>
<text transform="translate(14.2,164.5) rotate(-90)" text-anchor="middle" font-size="13">Battery current (A)</text>
<text transform="translate(14.2,276.8) rotate(-90)" text-anchor="middle" font-size="13">Battery voltage (V)</text>
<text transform="translate(14.2,380.4) rotate(-90)" text-anchor="middle" font-size="13">SOC (%)</text>
<text transform="translate(284.8,52.3) rotate(-90)" text-anchor="middle" font-size="12.9"><tspan font-size="12">Flux</tspan><tspan font-size="9.4" dy="3.8">RO</tspan><tspan dy="-3.8"> (L/m</tspan><tspan font-size="7.5" dy="-6.8">2</tspan><tspan dy="6.8">·h)</tspan></text>
<text transform="translate(283.6,172) rotate(-90)" text-anchor="middle" font-size="12.2">TMP<tspan font-size="9.6" dy="3.8">RO</tspan><tspan dy="-3.8"> (bar)</tspan></text>
<text transform="translate(283.4,277.5) rotate(-90)" text-anchor="middle" font-size="13">Production (L)</text>
<text transform="translate(284.5,392.2) rotate(-90)" text-anchor="middle" font-size="13">SEC (kWh/m<tspan font-size="7.5" dy="-6.8">3</tspan><tspan dy="6.8">)</tspan></text>
<rect x="323" y="383.8" width="8" height="1.4" fill="#fff"/>
<path d="M323,384.4 l8,-1.7 M323,386.2 l8,-1.7" stroke="#000" stroke-width="1.1" fill="none"/>
<rect x="537.6" y="383.8" width="8" height="1.4" fill="#fff"/>
<path d="M537.6,384.4 l8,-1.7 M537.6,386.2 l8,-1.7" stroke="#000" stroke-width="1.1" fill="none"/>
</g>
</g>
</svg></body></html>
